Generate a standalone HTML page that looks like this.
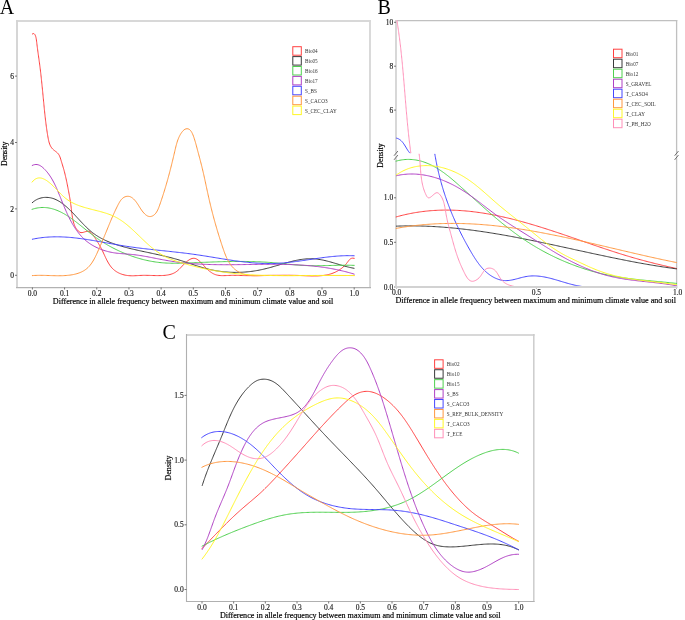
<!DOCTYPE html>
<html><head><meta charset="utf-8"><style>
html,body{margin:0;padding:0;background:#fff;width:685px;height:620px;overflow:hidden}
svg{display:block;will-change:transform}
</style></head><body>
<svg width="685" height="620" viewBox="0 0 685 620">
<defs>
<clipPath id="bup"><rect x="396" y="20" width="281" height="133.2"/></clipPath>
<clipPath id="blo"><rect x="395" y="153.6" width="282" height="134"/></clipPath>
</defs>
<style>
text{font-family:"Liberation Serif",serif;fill:#111}
.tk{font-size:7.5px;fill:#222;stroke:#222;stroke-width:0.15px}
.ti{font-size:8.1px;fill:#000;stroke:#000;stroke-width:0.18px}
.lg{font-size:5.2px;fill:#333}
.pl{font-size:20px;fill:#000}
path{fill:none;stroke-width:1.0;stroke-linejoin:round;stroke-linecap:round}
</style>
<rect width="685" height="620" fill="#fff"/>
<line x1="16.0" y1="21.0" x2="371.0" y2="21.0" stroke="#d8d8d8" stroke-width="1.9"/><line x1="370.0" y1="20.0" x2="370.0" y2="288.0" stroke="#d8d8d8" stroke-width="1.9"/><line x1="17.0" y1="20.0" x2="17.0" y2="288.0" stroke="#d4d4d4" stroke-width="1.9"/><line x1="16.0" y1="287.5" x2="371.0" y2="287.5" stroke="#b2b2b2" stroke-width="1.25"/>
<line x1="15.0" y1="275.3" x2="17.0" y2="275.3" stroke="#555" stroke-width="0.8"/>
<text x="14.0" y="277.9" class="tk" text-anchor="end">0</text>
<line x1="15.0" y1="208.9" x2="17.0" y2="208.9" stroke="#555" stroke-width="0.8"/>
<text x="14.0" y="211.5" class="tk" text-anchor="end">2</text>
<line x1="15.0" y1="142.5" x2="17.0" y2="142.5" stroke="#555" stroke-width="0.8"/>
<text x="14.0" y="145.1" class="tk" text-anchor="end">4</text>
<line x1="15.0" y1="76.1" x2="17.0" y2="76.1" stroke="#555" stroke-width="0.8"/>
<text x="14.0" y="78.7" class="tk" text-anchor="end">6</text>
<line x1="32.40" y1="287.5" x2="32.40" y2="289.5" stroke="#555" stroke-width="0.8"/>
<text x="32.40" y="296.1" class="tk" text-anchor="middle">0.0</text>
<line x1="64.58" y1="287.5" x2="64.58" y2="289.5" stroke="#555" stroke-width="0.8"/>
<text x="64.58" y="296.1" class="tk" text-anchor="middle">0.1</text>
<line x1="96.76" y1="287.5" x2="96.76" y2="289.5" stroke="#555" stroke-width="0.8"/>
<text x="96.76" y="296.1" class="tk" text-anchor="middle">0.2</text>
<line x1="128.94" y1="287.5" x2="128.94" y2="289.5" stroke="#555" stroke-width="0.8"/>
<text x="128.94" y="296.1" class="tk" text-anchor="middle">0.3</text>
<line x1="161.12" y1="287.5" x2="161.12" y2="289.5" stroke="#555" stroke-width="0.8"/>
<text x="161.12" y="296.1" class="tk" text-anchor="middle">0.4</text>
<line x1="193.30" y1="287.5" x2="193.30" y2="289.5" stroke="#555" stroke-width="0.8"/>
<text x="193.30" y="296.1" class="tk" text-anchor="middle">0.5</text>
<line x1="225.48" y1="287.5" x2="225.48" y2="289.5" stroke="#555" stroke-width="0.8"/>
<text x="225.48" y="296.1" class="tk" text-anchor="middle">0.6</text>
<line x1="257.66" y1="287.5" x2="257.66" y2="289.5" stroke="#555" stroke-width="0.8"/>
<text x="257.66" y="296.1" class="tk" text-anchor="middle">0.7</text>
<line x1="289.84" y1="287.5" x2="289.84" y2="289.5" stroke="#555" stroke-width="0.8"/>
<text x="289.84" y="296.1" class="tk" text-anchor="middle">0.8</text>
<line x1="322.02" y1="287.5" x2="322.02" y2="289.5" stroke="#555" stroke-width="0.8"/>
<text x="322.02" y="296.1" class="tk" text-anchor="middle">0.9</text>
<line x1="354.20" y1="287.5" x2="354.20" y2="289.5" stroke="#555" stroke-width="0.8"/>
<text x="354.20" y="296.1" class="tk" text-anchor="middle">1.0</text>
<text x="193.1" y="304.2" class="ti" text-anchor="middle">Difference in allele frequency between maximum and minimum climate value and soil</text>
<text transform="translate(7.2,153.8) rotate(-90)" class="ti" style="font-size:7.9px" text-anchor="middle">Density</text>
<path d="M32.40,34.00 L33.33,33.56 L34.10,33.73 L34.74,34.36 L35.25,35.28 L35.65,36.33 L35.96,37.47 L36.21,38.66 L36.40,39.90 L36.57,41.17 L36.72,42.43 L36.87,43.69 L37.02,44.94 L37.17,46.18 L37.33,47.41 L37.49,48.63 L37.65,49.85 L37.82,51.05 L37.98,52.25 L38.15,53.45 L38.31,54.64 L38.48,55.82 L38.64,57.00 L38.81,58.18 L38.97,59.36 L39.13,60.54 L39.29,61.71 L39.45,62.89 L39.61,64.07 L39.76,65.25 L39.92,66.43 L40.07,67.61 L40.21,68.80 L40.36,69.98 L40.50,71.17 L40.64,72.36 L40.78,73.56 L40.91,74.75 L41.04,75.95 L41.18,77.14 L41.31,78.34 L41.43,79.54 L41.56,80.74 L41.69,81.94 L41.81,83.14 L41.93,84.35 L42.05,85.55 L42.17,86.75 L42.29,87.96 L42.41,89.16 L42.53,90.36 L42.65,91.57 L42.76,92.77 L42.88,93.98 L43.00,95.18 L43.11,96.38 L43.23,97.58 L43.34,98.78 L43.46,99.98 L43.57,101.18 L43.69,102.38 L43.80,103.58 L43.92,104.78 L44.04,105.97 L44.15,107.17 L44.27,108.36 L44.39,109.55 L44.51,110.74 L44.63,111.93 L44.75,113.11 L44.88,114.30 L45.01,115.49 L45.13,116.67 L45.27,117.86 L45.40,119.05 L45.54,120.23 L45.68,121.42 L45.83,122.61 L45.98,123.80 L46.13,124.99 L46.29,126.18 L46.45,127.38 L46.62,128.57 L46.79,129.77 L46.97,130.97 L47.15,132.17 L47.34,133.37 L47.54,134.58 L47.74,135.79 L47.95,137.01 L48.17,138.22 L48.40,139.44 L48.66,140.64 L48.95,141.82 L49.29,142.99 L49.68,144.12 L50.12,145.21 L50.64,146.26 L51.24,147.25 L51.93,148.18 L52.71,149.05 L53.59,149.86 L54.54,150.61 L55.52,151.35 L56.48,152.09 L57.38,152.88 L58.19,153.74 L58.87,154.69 L59.44,155.73 L59.92,156.83 L60.34,157.98 L60.70,159.16 L61.05,160.33 L61.40,161.50 L61.75,162.65 L62.10,163.79 L62.44,164.92 L62.79,166.05 L63.13,167.19 L63.46,168.32 L63.79,169.47 L64.11,170.62 L64.41,171.79 L64.72,172.96 L65.01,174.14 L65.29,175.33 L65.57,176.52 L65.84,177.72 L66.11,178.92 L66.36,180.12 L66.62,181.32 L66.87,182.51 L67.11,183.71 L67.35,184.89 L67.58,186.07 L67.82,187.25 L68.04,188.41 L68.27,189.57 L68.49,190.73 L68.71,191.88 L68.92,193.03 L69.13,194.17 L69.34,195.32 L69.54,196.47 L69.74,197.62 L69.93,198.78 L70.12,199.94 L70.30,201.11 L70.47,202.28 L70.65,203.47 L70.81,204.67 L70.97,205.87 L71.12,207.10 L71.27,208.33 L71.41,209.58 L71.56,210.84 L71.70,212.11 L71.85,213.38 L72.01,214.64 L72.19,215.91 L72.38,217.16 L72.60,218.40 L72.84,219.63 L73.11,220.83 L73.42,222.02 L73.76,223.17 L74.14,224.29 L74.56,225.38 L75.03,226.43 L75.56,227.44 L76.14,228.40 L76.78,229.32 L77.48,230.17 L78.25,230.98 L79.09,231.71 L80.01,232.30 L81.01,232.61 L82.11,232.60 L83.28,232.36 L84.49,231.98 L85.72,231.58 L86.93,231.26 L88.09,231.14 L89.15,231.33 L90.12,231.80 L91.02,232.49 L91.85,233.36 L92.63,234.35 L93.37,235.40 L94.08,236.47 L94.77,237.53 L95.45,238.57 L96.11,239.60 L96.75,240.62 L97.37,241.64 L97.99,242.65 L98.59,243.66 L99.17,244.67 L99.75,245.68 L100.31,246.70 L100.86,247.73 L101.41,248.77 L101.94,249.82 L102.47,250.89 L102.99,251.98 L103.51,253.08 L104.03,254.20 L104.55,255.33 L105.07,256.46 L105.60,257.59 L106.14,258.71 L106.70,259.83 L107.27,260.93 L107.86,262.02 L108.47,263.09 L109.11,264.13 L109.78,265.14 L110.48,266.11 L111.21,267.05 L111.98,267.94 L112.79,268.79 L113.64,269.58 L114.54,270.33 L115.47,271.03 L116.43,271.67 L117.43,272.27 L118.46,272.82 L119.52,273.33 L120.60,273.78 L121.71,274.19 L122.85,274.55 L124.00,274.86 L125.17,275.13 L126.35,275.35 L127.55,275.52 L128.76,275.65 L129.98,275.74 L131.20,275.78 L132.43,275.79 L133.67,275.77 L134.90,275.73 L136.13,275.67 L137.36,275.60 L138.59,275.53 L139.81,275.46 L141.02,275.41 L142.21,275.37 L143.41,275.34 L144.59,275.34 L145.77,275.34 L146.94,275.35 L148.11,275.38 L149.28,275.40 L150.45,275.44 L151.63,275.47 L152.81,275.51 L154.00,275.54 L155.19,275.57 L156.40,275.59 L157.62,275.60 L158.85,275.60 L160.09,275.59 L161.34,275.57 L162.60,275.51 L163.85,275.44 L165.10,275.33 L166.33,275.19 L167.56,275.01 L168.76,274.79 L169.94,274.52 L171.09,274.20 L172.21,273.82 L173.30,273.39 L174.34,272.89 L175.33,272.33 L176.28,271.70 L177.20,271.00 L178.08,270.26 L178.93,269.47 L179.77,268.64 L180.60,267.79 L181.43,266.91 L182.26,266.02 L183.11,265.12 L183.98,264.23 L184.87,263.34 L185.80,262.47 L186.77,261.62 L187.78,260.81 L188.83,260.07 L189.90,259.42 L190.98,258.89 L192.05,258.51 L193.12,258.30 L194.16,258.29 L195.18,258.48 L196.18,258.84 L197.15,259.35 L198.10,259.99 L199.04,260.74 L199.96,261.58 L200.87,262.47 L201.76,263.41 L202.65,264.36 L203.53,265.31 L204.40,266.25 L205.27,267.17 L206.15,268.06 L207.03,268.94 L207.91,269.77 L208.81,270.58 L209.72,271.33 L210.65,272.04 L211.59,272.70 L212.56,273.30 L213.56,273.83 L214.58,274.30 L215.64,274.69 L216.73,275.00 L217.85,275.24 L219.00,275.42 L220.18,275.54 L221.37,275.61 L222.59,275.64 L223.82,275.64 L225.06,275.61 L226.31,275.56 L227.56,275.51 L228.81,275.45 L230.06,275.39 L231.31,275.35 L232.55,275.32 L233.78,275.32 L235.00,275.33 L236.21,275.35 L237.42,275.38 L238.62,275.42 L239.82,275.46 L241.02,275.50 L242.22,275.54 L243.42,275.57 L244.61,275.60 L245.81,275.62 L247.01,275.64 L248.20,275.65 L249.40,275.66 L250.59,275.67 L251.79,275.67 L252.98,275.67 L254.18,275.67 L255.37,275.66 L256.57,275.66 L257.76,275.65 L258.96,275.63 L260.15,275.62 L261.35,275.60 L262.54,275.58 L263.74,275.56 L264.94,275.54 L266.13,275.52 L267.33,275.50 L268.53,275.48 L269.72,275.46 L270.92,275.43 L272.12,275.41 L273.32,275.39 L274.52,275.37 L275.72,275.35 L276.92,275.33 L278.12,275.32 L279.32,275.30 L280.52,275.29 L281.73,275.28 L282.93,275.27 L284.14,275.26 L285.34,275.26 L286.55,275.26 L287.76,275.26 L288.97,275.26 L290.18,275.27 L291.39,275.29 L292.60,275.31 L293.81,275.33 L295.03,275.35 L296.24,275.39 L297.46,275.42 L298.68,275.46 L299.90,275.51 L301.12,275.56 L302.34,275.62 L303.56,275.67 L304.78,275.73 L306.00,275.78 L307.22,275.83 L308.44,275.88 L309.65,275.92 L310.87,275.95 L312.08,275.98 L313.29,275.99 L314.49,275.99 L315.70,275.98 L316.89,275.95 L318.09,275.90 L319.28,275.84 L320.46,275.76 L321.64,275.65 L322.81,275.53 L323.97,275.38 L325.13,275.20 L326.28,275.00 L327.42,274.76 L328.56,274.50 L329.68,274.21 L330.80,273.88 L331.91,273.51 L333.00,273.11 L334.09,272.68 L335.16,272.21 L336.22,271.70 L337.27,271.15 L338.29,270.56 L339.30,269.94 L340.29,269.28 L341.25,268.58 L342.20,267.83 L343.11,267.05 L344.01,266.23 L344.87,265.37 L345.70,264.47 L346.51,263.52 L347.28,262.53 L348.02,261.51 L348.77,260.50 L349.57,259.58 L350.46,258.83 L351.51,258.32 L352.74,258.13 L354.23,258.33" stroke="#ff4040"/>
<path d="M32.26,202.70 L33.26,201.84 L34.30,201.05 L35.36,200.34 L36.46,199.72 L37.57,199.17 L38.71,198.69 L39.86,198.30 L41.03,197.97 L42.21,197.72 L43.39,197.53 L44.58,197.42 L45.78,197.37 L46.96,197.38 L48.15,197.46 L49.32,197.60 L50.49,197.81 L51.64,198.07 L52.77,198.39 L53.88,198.76 L54.98,199.19 L56.06,199.66 L57.11,200.19 L58.15,200.75 L59.18,201.35 L60.19,201.98 L61.18,202.65 L62.16,203.35 L63.12,204.07 L64.07,204.81 L65.00,205.58 L65.92,206.36 L66.83,207.15 L67.73,207.96 L68.62,208.78 L69.50,209.62 L70.36,210.46 L71.22,211.32 L72.08,212.18 L72.92,213.05 L73.76,213.93 L74.60,214.81 L75.43,215.70 L76.26,216.59 L77.09,217.48 L77.92,218.38 L78.74,219.27 L79.57,220.16 L80.39,221.05 L81.22,221.94 L82.05,222.82 L82.89,223.70 L83.72,224.57 L84.57,225.43 L85.42,226.28 L86.28,227.13 L87.14,227.96 L88.01,228.78 L88.90,229.58 L89.79,230.37 L90.69,231.15 L91.61,231.91 L92.54,232.65 L93.48,233.37 L94.44,234.07 L95.41,234.76 L96.39,235.42 L97.39,236.06 L98.40,236.69 L99.43,237.29 L100.46,237.88 L101.51,238.45 L102.57,239.01 L103.64,239.54 L104.72,240.06 L105.81,240.57 L106.90,241.06 L108.01,241.54 L109.13,242.00 L110.25,242.45 L111.38,242.89 L112.52,243.31 L113.66,243.72 L114.81,244.12 L115.96,244.51 L117.12,244.89 L118.29,245.26 L119.45,245.61 L120.63,245.96 L121.80,246.30 L122.98,246.64 L124.16,246.96 L125.34,247.28 L126.52,247.59 L127.70,247.89 L128.88,248.19 L130.06,248.48 L131.24,248.77 L132.42,249.05 L133.60,249.33 L134.78,249.60 L135.96,249.87 L137.13,250.14 L138.31,250.40 L139.49,250.66 L140.66,250.92 L141.84,251.18 L143.01,251.43 L144.18,251.68 L145.35,251.93 L146.52,252.18 L147.70,252.43 L148.87,252.68 L150.04,252.93 L151.20,253.18 L152.37,253.43 L153.54,253.68 L154.71,253.93 L155.87,254.18 L157.04,254.44 L158.20,254.69 L159.37,254.95 L160.53,255.21 L161.69,255.48 L162.86,255.74 L164.02,256.01 L165.18,256.29 L166.34,256.57 L167.50,256.85 L168.66,257.14 L169.82,257.43 L170.97,257.73 L172.13,258.03 L173.29,258.34 L174.44,258.66 L175.60,258.98 L176.76,259.31 L177.91,259.65 L179.06,259.99 L180.22,260.35 L181.37,260.70 L182.52,261.07 L183.67,261.44 L184.83,261.82 L185.98,262.20 L187.13,262.59 L188.28,262.97 L189.43,263.36 L190.59,263.75 L191.74,264.14 L192.89,264.52 L194.05,264.91 L195.20,265.29 L196.36,265.67 L197.51,266.04 L198.67,266.41 L199.83,266.77 L200.99,267.13 L202.15,267.47 L203.31,267.81 L204.48,268.14 L205.64,268.45 L206.81,268.76 L207.98,269.05 L209.15,269.33 L210.32,269.60 L211.50,269.85 L212.67,270.09 L213.85,270.32 L215.03,270.54 L216.21,270.75 L217.39,270.94 L218.57,271.12 L219.76,271.29 L220.94,271.45 L222.13,271.59 L223.31,271.73 L224.50,271.85 L225.69,271.95 L226.88,272.05 L228.07,272.14 L229.26,272.21 L230.45,272.27 L231.64,272.32 L232.83,272.35 L234.02,272.38 L235.22,272.39 L236.41,272.39 L237.60,272.38 L238.80,272.36 L239.99,272.32 L241.18,272.27 L242.37,272.22 L243.57,272.14 L244.76,272.06 L245.95,271.97 L247.14,271.86 L248.34,271.74 L249.53,271.61 L250.72,271.47 L251.91,271.32 L253.10,271.16 L254.29,270.98 L255.47,270.79 L256.66,270.59 L257.85,270.38 L259.03,270.16 L260.22,269.92 L261.40,269.68 L262.58,269.42 L263.76,269.15 L264.94,268.87 L266.12,268.58 L267.29,268.28 L268.47,267.97 L269.64,267.65 L270.82,267.33 L271.99,267.00 L273.16,266.66 L274.33,266.32 L275.51,265.98 L276.68,265.64 L277.85,265.29 L279.01,264.94 L280.18,264.60 L281.35,264.25 L282.52,263.91 L283.69,263.57 L284.86,263.24 L286.02,262.91 L287.19,262.58 L288.36,262.26 L289.53,261.95 L290.70,261.65 L291.86,261.36 L293.03,261.08 L294.20,260.81 L295.37,260.55 L296.54,260.31 L297.71,260.08 L298.89,259.86 L300.06,259.67 L301.23,259.48 L302.41,259.32 L303.58,259.17 L304.76,259.05 L305.94,258.94 L307.12,258.86 L308.30,258.80 L309.48,258.76 L310.66,258.74 L311.85,258.76 L313.03,258.79 L314.22,258.86 L315.41,258.95 L316.60,259.07 L317.79,259.21 L318.99,259.38 L320.18,259.58 L321.38,259.79 L322.57,260.02 L323.77,260.28 L324.96,260.55 L326.16,260.83 L327.35,261.13 L328.55,261.44 L329.74,261.76 L330.93,262.09 L332.12,262.43 L333.31,262.78 L334.49,263.13 L335.67,263.48 L336.85,263.83 L338.03,264.19 L339.21,264.54 L340.38,264.89 L341.55,265.23 L342.71,265.57 L343.87,265.90 L345.02,266.22 L346.18,266.53 L347.32,266.83 L348.46,267.12 L349.60,267.39 L350.73,267.64 L351.85,267.88 L352.97,268.09 L354.08,268.29" stroke="#3a3a3a"/>
<path d="M32.06,209.34 L33.34,208.93 L34.60,208.57 L35.86,208.26 L37.10,208.01 L38.34,207.81 L39.57,207.66 L40.79,207.55 L42.00,207.49 L43.20,207.48 L44.40,207.51 L45.58,207.58 L46.76,207.69 L47.93,207.85 L49.09,208.04 L50.24,208.27 L51.38,208.53 L52.52,208.83 L53.64,209.17 L54.76,209.53 L55.87,209.93 L56.97,210.35 L58.07,210.81 L59.15,211.29 L60.23,211.79 L61.30,212.32 L62.37,212.87 L63.42,213.45 L64.47,214.04 L65.51,214.65 L66.54,215.28 L67.57,215.93 L68.58,216.59 L69.60,217.27 L70.60,217.95 L71.60,218.65 L72.58,219.36 L73.57,220.08 L74.54,220.80 L75.52,221.53 L76.48,222.27 L77.44,223.02 L78.40,223.77 L79.36,224.53 L80.31,225.28 L81.26,226.05 L82.21,226.81 L83.15,227.57 L84.10,228.34 L85.04,229.10 L85.99,229.86 L86.93,230.63 L87.88,231.38 L88.83,232.14 L89.78,232.89 L90.73,233.63 L91.68,234.37 L92.64,235.11 L93.61,235.83 L94.57,236.55 L95.55,237.26 L96.52,237.95 L97.51,238.64 L98.50,239.32 L99.49,239.99 L100.49,240.65 L101.49,241.31 L102.50,241.95 L103.52,242.59 L104.54,243.21 L105.57,243.83 L106.60,244.44 L107.63,245.04 L108.68,245.63 L109.72,246.22 L110.78,246.79 L111.84,247.36 L112.90,247.92 L113.97,248.47 L115.05,249.01 L116.13,249.55 L117.21,250.07 L118.30,250.59 L119.40,251.10 L120.50,251.60 L121.61,252.09 L122.72,252.57 L123.83,253.05 L124.95,253.51 L126.07,253.97 L127.20,254.41 L128.33,254.85 L129.47,255.27 L130.61,255.69 L131.75,256.10 L132.90,256.49 L134.05,256.88 L135.20,257.26 L136.35,257.62 L137.51,257.98 L138.68,258.32 L139.84,258.65 L141.01,258.98 L142.18,259.29 L143.35,259.59 L144.53,259.88 L145.71,260.15 L146.89,260.42 L148.07,260.67 L149.26,260.92 L150.44,261.15 L151.63,261.36 L152.82,261.57 L154.01,261.76 L155.20,261.95 L156.40,262.12 L157.59,262.27 L158.79,262.41 L159.98,262.55 L161.18,262.66 L162.38,262.77 L163.58,262.86 L164.78,262.95 L165.98,263.02 L167.18,263.08 L168.38,263.14 L169.59,263.18 L170.79,263.21 L171.99,263.24 L173.20,263.26 L174.40,263.27 L175.61,263.27 L176.82,263.26 L178.02,263.25 L179.23,263.24 L180.44,263.22 L181.64,263.19 L182.85,263.16 L184.06,263.12 L185.27,263.09 L186.48,263.04 L187.68,263.00 L188.89,262.95 L190.10,262.90 L191.31,262.85 L192.52,262.80 L193.73,262.75 L194.94,262.70 L196.14,262.65 L197.35,262.60 L198.56,262.55 L199.77,262.50 L200.98,262.44 L202.19,262.39 L203.40,262.34 L204.60,262.30 L205.81,262.25 L207.02,262.20 L208.23,262.15 L209.44,262.11 L210.64,262.06 L211.85,262.02 L213.06,261.97 L214.27,261.93 L215.47,261.89 L216.68,261.85 L217.89,261.81 L219.10,261.78 L220.30,261.74 L221.51,261.71 L222.72,261.68 L223.93,261.65 L225.13,261.62 L226.34,261.59 L227.55,261.57 L228.75,261.54 L229.96,261.52 L231.17,261.50 L232.37,261.49 L233.58,261.47 L234.79,261.46 L235.99,261.45 L237.20,261.45 L238.40,261.44 L239.61,261.44 L240.82,261.44 L242.02,261.44 L243.23,261.45 L244.43,261.46 L245.64,261.47 L246.85,261.49 L248.05,261.50 L249.26,261.53 L250.46,261.55 L251.67,261.58 L252.87,261.61 L254.08,261.64 L255.28,261.68 L256.49,261.72 L257.69,261.77 L258.90,261.82 L260.10,261.87 L261.31,261.93 L262.51,261.99 L263.72,262.06 L264.92,262.12 L266.12,262.20 L267.33,262.27 L268.53,262.36 L269.74,262.44 L270.94,262.53 L272.14,262.63 L273.35,262.73 L274.55,262.83 L275.75,262.94 L276.96,263.05 L278.16,263.17 L279.36,263.29 L280.57,263.41 L281.77,263.53 L282.97,263.66 L284.18,263.79 L285.38,263.91 L286.59,264.04 L287.79,264.16 L288.99,264.29 L290.20,264.41 L291.40,264.53 L292.60,264.64 L293.81,264.76 L295.01,264.86 L296.22,264.97 L297.42,265.06 L298.63,265.15 L299.83,265.24 L301.04,265.32 L302.24,265.39 L303.45,265.45 L304.66,265.50 L305.86,265.55 L307.07,265.59 L308.28,265.63 L309.48,265.66 L310.69,265.68 L311.90,265.70 L313.11,265.71 L314.32,265.72 L315.52,265.72 L316.73,265.72 L317.94,265.71 L319.15,265.70 L320.36,265.69 L321.57,265.67 L322.78,265.65 L323.99,265.63 L325.20,265.61 L326.40,265.58 L327.61,265.55 L328.82,265.52 L330.03,265.49 L331.24,265.46 L332.45,265.43 L333.66,265.40 L334.87,265.37 L336.08,265.34 L337.29,265.32 L338.50,265.29 L339.71,265.27 L340.91,265.25 L342.12,265.24 L343.33,265.23 L344.54,265.22 L345.75,265.22 L346.95,265.22 L348.16,265.23 L349.37,265.24 L350.58,265.27 L351.78,265.29 L352.99,265.33 L354.20,265.37" stroke="#4fd04f"/>
<path d="M32.25,165.47 L33.53,164.92 L34.77,164.60 L35.95,164.48 L37.09,164.55 L38.19,164.79 L39.25,165.18 L40.26,165.69 L41.24,166.31 L42.18,167.02 L43.08,167.80 L43.96,168.62 L44.80,169.48 L45.62,170.35 L46.41,171.24 L47.17,172.14 L47.91,173.07 L48.62,174.01 L49.31,174.96 L49.98,175.93 L50.63,176.92 L51.25,177.92 L51.86,178.93 L52.46,179.95 L53.03,180.99 L53.59,182.04 L54.14,183.10 L54.67,184.17 L55.19,185.24 L55.70,186.33 L56.20,187.42 L56.70,188.53 L57.18,189.64 L57.66,190.75 L58.13,191.87 L58.60,193.00 L59.06,194.13 L59.52,195.26 L59.99,196.40 L60.45,197.54 L60.91,198.68 L61.37,199.83 L61.83,200.97 L62.30,202.11 L62.76,203.26 L63.23,204.40 L63.70,205.55 L64.18,206.69 L64.66,207.83 L65.14,208.96 L65.63,210.10 L66.13,211.23 L66.63,212.35 L67.13,213.47 L67.65,214.59 L68.17,215.69 L68.70,216.80 L69.24,217.89 L69.79,218.98 L70.34,220.06 L70.91,221.13 L71.49,222.19 L72.07,223.24 L72.67,224.29 L73.28,225.32 L73.91,226.34 L74.55,227.35 L75.20,228.34 L75.86,229.32 L76.54,230.29 L77.23,231.25 L77.94,232.19 L78.66,233.12 L79.40,234.03 L80.16,234.92 L80.94,235.80 L81.73,236.66 L82.54,237.50 L83.37,238.33 L84.22,239.14 L85.09,239.92 L85.98,240.69 L86.89,241.44 L87.82,242.16 L88.77,242.87 L89.74,243.55 L90.74,244.21 L91.76,244.85 L92.79,245.47 L93.85,246.06 L94.92,246.64 L96.00,247.19 L97.11,247.71 L98.22,248.22 L99.35,248.70 L100.49,249.16 L101.64,249.60 L102.80,250.01 L103.97,250.41 L105.15,250.78 L106.33,251.12 L107.52,251.45 L108.71,251.75 L109.91,252.03 L111.11,252.28 L112.31,252.51 L113.50,252.72 L114.70,252.91 L115.90,253.07 L117.10,253.22 L118.29,253.35 L119.49,253.47 L120.68,253.58 L121.87,253.67 L123.07,253.76 L124.26,253.85 L125.45,253.94 L126.64,254.02 L127.83,254.11 L129.02,254.20 L130.21,254.30 L131.40,254.41 L132.59,254.53 L133.78,254.66 L134.96,254.80 L136.15,254.96 L137.34,255.12 L138.53,255.29 L139.71,255.46 L140.90,255.65 L142.09,255.84 L143.27,256.04 L144.46,256.25 L145.65,256.46 L146.83,256.67 L148.02,256.89 L149.21,257.11 L150.39,257.34 L151.58,257.57 L152.77,257.80 L153.95,258.03 L155.14,258.26 L156.33,258.50 L157.52,258.73 L158.70,258.96 L159.89,259.19 L161.08,259.42 L162.27,259.65 L163.46,259.87 L164.65,260.09 L165.84,260.31 L167.03,260.52 L168.22,260.73 L169.41,260.93 L170.60,261.12 L171.79,261.31 L172.98,261.49 L174.18,261.67 L175.37,261.84 L176.56,262.00 L177.76,262.16 L178.95,262.31 L180.15,262.45 L181.34,262.59 L182.54,262.73 L183.74,262.86 L184.93,262.98 L186.13,263.10 L187.33,263.21 L188.52,263.32 L189.72,263.43 L190.92,263.52 L192.12,263.62 L193.32,263.71 L194.52,263.79 L195.72,263.87 L196.92,263.95 L198.12,264.02 L199.32,264.09 L200.52,264.15 L201.73,264.21 L202.93,264.27 L204.13,264.32 L205.33,264.37 L206.54,264.41 L207.74,264.45 L208.94,264.49 L210.15,264.52 L211.35,264.56 L212.55,264.58 L213.76,264.61 L214.96,264.63 L216.17,264.65 L217.37,264.67 L218.58,264.68 L219.78,264.69 L220.99,264.70 L222.19,264.71 L223.40,264.72 L224.60,264.72 L225.81,264.72 L227.02,264.72 L228.22,264.72 L229.43,264.71 L230.64,264.71 L231.84,264.70 L233.05,264.69 L234.26,264.68 L235.46,264.67 L236.67,264.66 L237.88,264.64 L239.09,264.63 L240.29,264.62 L241.50,264.60 L242.71,264.58 L243.92,264.57 L245.12,264.55 L246.33,264.53 L247.54,264.51 L248.75,264.50 L249.95,264.48 L251.16,264.46 L252.37,264.44 L253.58,264.43 L254.78,264.41 L255.99,264.39 L257.20,264.38 L258.41,264.36 L259.61,264.35 L260.82,264.33 L262.03,264.32 L263.23,264.31 L264.44,264.30 L265.65,264.29 L266.86,264.28 L268.06,264.28 L269.27,264.27 L270.47,264.27 L271.68,264.27 L272.89,264.27 L274.09,264.27 L275.30,264.28 L276.50,264.29 L277.71,264.30 L278.92,264.31 L280.12,264.32 L281.33,264.34 L282.53,264.36 L283.73,264.38 L284.94,264.40 L286.14,264.43 L287.35,264.46 L288.55,264.50 L289.75,264.53 L290.96,264.58 L292.16,264.62 L293.36,264.67 L294.56,264.72 L295.77,264.77 L296.97,264.83 L298.17,264.90 L299.37,264.96 L300.57,265.03 L301.77,265.11 L302.97,265.19 L304.17,265.27 L305.37,265.36 L306.57,265.46 L307.77,265.55 L308.97,265.66 L310.17,265.76 L311.36,265.88 L312.56,266.00 L313.76,266.12 L314.95,266.25 L316.15,266.38 L317.35,266.52 L318.54,266.67 L319.74,266.82 L320.93,266.97 L322.12,267.14 L323.32,267.30 L324.51,267.48 L325.70,267.66 L326.89,267.85 L328.09,268.04 L329.28,268.24 L330.47,268.45 L331.66,268.66 L332.85,268.88 L334.04,269.11 L335.22,269.34 L336.41,269.58 L337.60,269.83 L338.79,270.09 L339.97,270.35 L341.16,270.62 L342.34,270.90 L343.53,271.19 L344.71,271.48 L345.89,271.78 L347.08,272.09 L348.26,272.41 L349.44,272.73 L350.62,273.07 L351.80,273.41 L352.98,273.76 L354.16,274.12" stroke="#b040c4"/>
<path d="M32.34,239.24 L33.55,238.99 L34.75,238.75 L35.96,238.53 L37.16,238.33 L38.37,238.14 L39.57,237.96 L40.77,237.80 L41.97,237.65 L43.17,237.51 L44.38,237.39 L45.58,237.28 L46.78,237.18 L47.98,237.09 L49.18,237.02 L50.38,236.96 L51.57,236.91 L52.77,236.87 L53.97,236.84 L55.17,236.82 L56.37,236.82 L57.56,236.82 L58.76,236.84 L59.96,236.86 L61.15,236.89 L62.35,236.94 L63.55,236.99 L64.74,237.05 L65.94,237.12 L67.13,237.20 L68.33,237.28 L69.52,237.38 L70.71,237.48 L71.91,237.59 L73.10,237.71 L74.30,237.83 L75.49,237.96 L76.68,238.09 L77.88,238.24 L79.07,238.39 L80.26,238.54 L81.46,238.70 L82.65,238.86 L83.84,239.03 L85.03,239.21 L86.23,239.39 L87.42,239.57 L88.61,239.75 L89.80,239.95 L90.99,240.14 L92.19,240.34 L93.38,240.54 L94.57,240.74 L95.76,240.94 L96.95,241.15 L98.15,241.36 L99.34,241.57 L100.53,241.78 L101.72,242.00 L102.91,242.21 L104.10,242.43 L105.30,242.64 L106.49,242.86 L107.68,243.08 L108.87,243.29 L110.06,243.51 L111.26,243.72 L112.45,243.94 L113.64,244.15 L114.83,244.36 L116.03,244.57 L117.22,244.78 L118.41,244.98 L119.61,245.18 L120.80,245.38 L121.99,245.58 L123.19,245.77 L124.38,245.96 L125.57,246.15 L126.77,246.33 L127.96,246.51 L129.16,246.69 L130.35,246.86 L131.55,247.03 L132.74,247.20 L133.94,247.36 L135.13,247.52 L136.33,247.68 L137.52,247.83 L138.72,247.98 L139.91,248.13 L141.11,248.28 L142.31,248.43 L143.50,248.57 L144.70,248.71 L145.90,248.85 L147.09,248.99 L148.29,249.13 L149.49,249.26 L150.68,249.39 L151.88,249.53 L153.08,249.66 L154.27,249.79 L155.47,249.92 L156.67,250.05 L157.87,250.18 L159.06,250.30 L160.26,250.43 L161.46,250.56 L162.66,250.68 L163.85,250.81 L165.05,250.94 L166.25,251.07 L167.45,251.19 L168.64,251.32 L169.84,251.45 L171.04,251.58 L172.24,251.71 L173.43,251.84 L174.63,251.97 L175.83,252.10 L177.03,252.24 L178.23,252.37 L179.42,252.51 L180.62,252.65 L181.82,252.79 L183.02,252.93 L184.21,253.08 L185.41,253.23 L186.61,253.37 L187.80,253.52 L189.00,253.68 L190.20,253.83 L191.40,253.99 L192.59,254.16 L193.79,254.32 L194.99,254.49 L196.18,254.66 L197.38,254.83 L198.58,255.01 L199.77,255.19 L200.97,255.37 L202.16,255.55 L203.36,255.74 L204.56,255.93 L205.75,256.12 L206.95,256.31 L208.14,256.50 L209.34,256.69 L210.54,256.89 L211.73,257.08 L212.93,257.28 L214.12,257.48 L215.32,257.67 L216.51,257.87 L217.71,258.07 L218.90,258.26 L220.10,258.46 L221.29,258.65 L222.49,258.84 L223.68,259.04 L224.88,259.23 L226.08,259.42 L227.27,259.60 L228.47,259.79 L229.66,259.97 L230.86,260.15 L232.05,260.33 L233.25,260.51 L234.44,260.68 L235.64,260.85 L236.83,261.01 L238.03,261.18 L239.22,261.34 L240.42,261.49 L241.61,261.64 L242.81,261.79 L244.00,261.93 L245.20,262.07 L246.39,262.20 L247.59,262.33 L248.78,262.45 L249.98,262.57 L251.17,262.68 L252.37,262.79 L253.56,262.89 L254.76,262.98 L255.96,263.07 L257.15,263.15 L258.35,263.22 L259.54,263.29 L260.74,263.35 L261.93,263.40 L263.13,263.45 L264.33,263.49 L265.52,263.52 L266.72,263.54 L267.92,263.55 L269.11,263.55 L270.31,263.55 L271.50,263.54 L272.70,263.52 L273.90,263.48 L275.10,263.44 L276.29,263.39 L277.49,263.33 L278.69,263.27 L279.88,263.19 L281.08,263.10 L282.28,263.01 L283.48,262.91 L284.67,262.81 L285.87,262.69 L287.07,262.57 L288.27,262.44 L289.47,262.31 L290.66,262.18 L291.86,262.03 L293.06,261.88 L294.26,261.73 L295.46,261.58 L296.65,261.42 L297.85,261.25 L299.05,261.09 L300.25,260.92 L301.45,260.75 L302.65,260.57 L303.85,260.40 L305.04,260.22 L306.24,260.04 L307.44,259.86 L308.64,259.68 L309.84,259.50 L311.04,259.32 L312.24,259.14 L313.43,258.97 L314.63,258.79 L315.83,258.61 L317.03,258.44 L318.23,258.27 L319.43,258.10 L320.63,257.93 L321.82,257.77 L323.02,257.61 L324.22,257.45 L325.42,257.30 L326.62,257.16 L327.82,257.01 L329.02,256.88 L330.21,256.75 L331.41,256.62 L332.61,256.50 L333.81,256.39 L335.01,256.28 L336.21,256.18 L337.40,256.09 L338.60,256.01 L339.80,255.93 L341.00,255.86 L342.19,255.80 L343.39,255.75 L344.59,255.71 L345.79,255.68 L346.98,255.66 L348.18,255.66 L349.38,255.66 L350.58,255.67 L351.77,255.69 L352.97,255.73 L354.17,255.78" stroke="#4646ff"/>
<path d="M32.35,275.60 L33.60,275.52 L34.84,275.45 L36.07,275.41 L37.29,275.37 L38.50,275.35 L39.70,275.34 L40.90,275.34 L42.09,275.35 L43.28,275.37 L44.47,275.40 L45.65,275.43 L46.83,275.46 L48.01,275.50 L49.20,275.54 L50.38,275.58 L51.56,275.62 L52.75,275.65 L53.94,275.68 L55.14,275.71 L56.34,275.73 L57.55,275.74 L58.77,275.75 L60.00,275.74 L61.23,275.72 L62.46,275.69 L63.70,275.64 L64.93,275.57 L66.17,275.49 L67.40,275.39 L68.63,275.26 L69.85,275.12 L71.06,274.94 L72.26,274.75 L73.45,274.52 L74.62,274.27 L75.79,273.98 L76.93,273.66 L78.06,273.31 L79.16,272.92 L80.25,272.50 L81.31,272.04 L82.35,271.53 L83.35,270.99 L84.33,270.40 L85.29,269.77 L86.20,269.09 L87.09,268.37 L87.94,267.59 L88.75,266.77 L89.54,265.90 L90.29,265.00 L91.01,264.05 L91.71,263.08 L92.38,262.07 L93.03,261.03 L93.65,259.97 L94.26,258.88 L94.84,257.78 L95.41,256.66 L95.96,255.53 L96.50,254.40 L97.02,253.25 L97.54,252.10 L98.05,250.96 L98.55,249.81 L99.04,248.68 L99.53,247.55 L100.01,246.43 L100.50,245.31 L100.97,244.20 L101.45,243.10 L101.92,242.00 L102.38,240.91 L102.85,239.82 L103.31,238.73 L103.76,237.64 L104.22,236.56 L104.67,235.48 L105.12,234.40 L105.57,233.31 L106.02,232.23 L106.47,231.15 L106.92,230.06 L107.36,228.97 L107.81,227.89 L108.26,226.79 L108.70,225.70 L109.15,224.61 L109.61,223.51 L110.06,222.41 L110.52,221.31 L110.98,220.21 L111.45,219.10 L111.92,218.00 L112.40,216.89 L112.88,215.78 L113.38,214.67 L113.87,213.55 L114.38,212.44 L114.90,211.32 L115.42,210.20 L115.95,209.08 L116.50,207.95 L117.05,206.83 L117.61,205.70 L118.19,204.57 L118.79,203.45 L119.41,202.36 L120.06,201.30 L120.75,200.31 L121.50,199.38 L122.30,198.55 L123.16,197.83 L124.10,197.23 L125.11,196.77 L126.17,196.46 L127.27,196.30 L128.39,196.32 L129.49,196.51 L130.58,196.89 L131.62,197.45 L132.62,198.15 L133.56,198.97 L134.44,199.86 L135.26,200.78 L136.02,201.73 L136.74,202.71 L137.43,203.70 L138.09,204.71 L138.74,205.74 L139.38,206.77 L140.04,207.81 L140.71,208.86 L141.42,209.91 L142.17,210.95 L142.97,211.98 L143.81,212.97 L144.69,213.89 L145.60,214.72 L146.56,215.42 L147.54,215.99 L148.54,216.37 L149.58,216.56 L150.62,216.53 L151.67,216.28 L152.68,215.86 L153.63,215.29 L154.50,214.61 L155.28,213.82 L155.99,212.94 L156.64,211.98 L157.24,210.95 L157.78,209.87 L158.29,208.73 L158.76,207.57 L159.20,206.38 L159.63,205.18 L160.05,203.98 L160.46,202.79 L160.87,201.60 L161.27,200.41 L161.67,199.23 L162.06,198.06 L162.44,196.89 L162.82,195.72 L163.19,194.56 L163.56,193.40 L163.93,192.24 L164.29,191.09 L164.64,189.93 L164.99,188.79 L165.34,187.64 L165.68,186.49 L166.02,185.35 L166.35,184.21 L166.68,183.07 L167.01,181.93 L167.33,180.79 L167.65,179.65 L167.97,178.52 L168.28,177.38 L168.59,176.24 L168.90,175.10 L169.20,173.96 L169.50,172.82 L169.80,171.68 L170.10,170.54 L170.39,169.39 L170.69,168.24 L170.98,167.09 L171.27,165.94 L171.56,164.79 L171.84,163.63 L172.13,162.47 L172.41,161.30 L172.69,160.14 L172.97,158.96 L173.25,157.79 L173.53,156.61 L173.81,155.42 L174.09,154.23 L174.37,153.03 L174.65,151.83 L174.93,150.62 L175.21,149.41 L175.49,148.20 L175.79,146.98 L176.09,145.77 L176.41,144.57 L176.75,143.37 L177.10,142.19 L177.48,141.01 L177.89,139.86 L178.33,138.72 L178.79,137.60 L179.30,136.50 L179.84,135.43 L180.43,134.39 L181.06,133.37 L181.74,132.39 L182.47,131.45 L183.25,130.57 L184.10,129.81 L185.02,129.23 L185.99,128.87 L186.98,128.73 L187.95,128.82 L188.86,129.15 L189.71,129.71 L190.48,130.47 L191.19,131.41 L191.84,132.49 L192.43,133.67 L192.97,134.93 L193.47,136.23 L193.93,137.54 L194.35,138.83 L194.75,140.08 L195.11,141.30 L195.46,142.48 L195.79,143.64 L196.11,144.78 L196.41,145.90 L196.71,147.02 L197.00,148.13 L197.29,149.24 L197.59,150.36 L197.89,151.48 L198.19,152.61 L198.49,153.74 L198.80,154.88 L199.10,156.02 L199.41,157.17 L199.72,158.32 L200.02,159.48 L200.33,160.64 L200.63,161.80 L200.93,162.97 L201.23,164.14 L201.52,165.31 L201.82,166.48 L202.10,167.65 L202.39,168.83 L202.67,170.01 L202.94,171.19 L203.22,172.37 L203.49,173.55 L203.75,174.73 L204.02,175.92 L204.28,177.10 L204.54,178.29 L204.80,179.47 L205.06,180.66 L205.31,181.84 L205.57,183.03 L205.82,184.21 L206.07,185.40 L206.33,186.58 L206.58,187.76 L206.83,188.95 L207.09,190.13 L207.34,191.31 L207.60,192.49 L207.85,193.66 L208.11,194.84 L208.37,196.01 L208.63,197.18 L208.90,198.35 L209.17,199.52 L209.43,200.69 L209.71,201.85 L209.98,203.01 L210.26,204.17 L210.54,205.33 L210.82,206.49 L211.10,207.64 L211.39,208.80 L211.68,209.95 L211.97,211.11 L212.26,212.26 L212.56,213.41 L212.86,214.56 L213.16,215.71 L213.47,216.86 L213.78,218.01 L214.09,219.16 L214.40,220.31 L214.72,221.45 L215.04,222.60 L215.37,223.75 L215.69,224.90 L216.02,226.05 L216.36,227.20 L216.69,228.35 L217.03,229.50 L217.37,230.65 L217.72,231.81 L218.07,232.96 L218.42,234.11 L218.78,235.27 L219.14,236.43 L219.50,237.59 L219.87,238.75 L220.24,239.91 L220.61,241.07 L220.99,242.24 L221.37,243.41 L221.75,244.58 L222.14,245.75 L222.53,246.92 L222.93,248.10 L223.33,249.28 L223.74,250.45 L224.15,251.62 L224.58,252.78 L225.03,253.94 L225.48,255.08 L225.96,256.21 L226.45,257.33 L226.96,258.43 L227.49,259.51 L228.04,260.58 L228.62,261.62 L229.23,262.63 L229.86,263.62 L230.52,264.58 L231.22,265.51 L231.95,266.41 L232.71,267.27 L233.51,268.10 L234.34,268.88 L235.22,269.63 L236.14,270.34 L237.10,271.00 L238.10,271.61 L239.14,272.19 L240.20,272.71 L241.30,273.20 L242.42,273.64 L243.56,274.04 L244.72,274.39 L245.90,274.70 L247.09,274.97 L248.29,275.19 L249.49,275.37 L250.69,275.51 L251.90,275.61 L253.10,275.68 L254.31,275.72 L255.52,275.73 L256.73,275.72 L257.94,275.69 L259.16,275.65 L260.37,275.60 L261.58,275.55 L262.79,275.49 L264.00,275.44 L265.20,275.40 L266.41,275.36 L267.61,275.34 L268.82,275.34 L270.02,275.34 L271.22,275.36 L272.42,275.38 L273.62,275.40 L274.82,275.43 L276.02,275.45 L277.22,275.48 L278.42,275.50 L279.62,275.52 L280.82,275.53 L282.02,275.54 L283.22,275.55 L284.42,275.56 L285.62,275.56 L286.83,275.56 L288.03,275.56 L289.23,275.56 L290.44,275.56 L291.64,275.55 L292.84,275.55 L294.05,275.54 L295.25,275.53 L296.46,275.53 L297.66,275.52 L298.86,275.51 L300.07,275.51 L301.27,275.50 L302.48,275.49 L303.68,275.49 L304.88,275.48 L306.09,275.48 L307.29,275.48 L308.49,275.47 L309.70,275.47 L310.90,275.47 L312.10,275.47 L313.30,275.47 L314.51,275.47 L315.71,275.47 L316.91,275.47 L318.12,275.48 L319.32,275.48 L320.52,275.48 L321.72,275.48 L322.93,275.49 L324.13,275.49 L325.33,275.49 L326.53,275.50 L327.74,275.50 L328.94,275.50 L330.14,275.50 L331.34,275.51 L332.55,275.51 L333.75,275.51 L334.95,275.51 L336.15,275.52 L337.36,275.52 L338.56,275.52 L339.76,275.52 L340.96,275.52 L342.17,275.52 L343.37,275.52 L344.57,275.52 L345.78,275.52 L346.98,275.51 L348.18,275.51 L349.39,275.50 L350.59,275.50 L351.80,275.49 L353.00,275.49 L354.20,275.48" stroke="#ff9840"/>
<path d="M32.10,182.10 L33.12,180.91 L34.16,179.94 L35.20,179.18 L36.25,178.60 L37.30,178.21 L38.35,177.98 L39.40,177.91 L40.45,177.97 L41.49,178.16 L42.53,178.46 L43.55,178.87 L44.57,179.35 L45.57,179.91 L46.55,180.53 L47.51,181.20 L48.46,181.90 L49.38,182.64 L50.30,183.40 L51.20,184.20 L52.08,185.02 L52.96,185.85 L53.83,186.71 L54.69,187.58 L55.55,188.46 L56.40,189.35 L57.25,190.24 L58.11,191.13 L58.96,192.02 L59.82,192.91 L60.68,193.79 L61.55,194.65 L62.43,195.50 L63.33,196.33 L64.23,197.14 L65.15,197.93 L66.08,198.68 L67.03,199.40 L68.00,200.10 L68.99,200.75 L69.99,201.38 L71.01,201.98 L72.05,202.55 L73.10,203.09 L74.17,203.61 L75.25,204.11 L76.34,204.58 L77.44,205.03 L78.56,205.46 L79.68,205.87 L80.82,206.26 L81.96,206.64 L83.11,207.01 L84.27,207.36 L85.43,207.70 L86.60,208.03 L87.78,208.35 L88.96,208.67 L90.14,208.98 L91.32,209.28 L92.51,209.58 L93.70,209.88 L94.88,210.18 L96.07,210.48 L97.25,210.78 L98.44,211.08 L99.62,211.39 L100.79,211.71 L101.97,212.03 L103.13,212.36 L104.29,212.71 L105.45,213.06 L106.59,213.43 L107.73,213.82 L108.86,214.22 L109.98,214.63 L111.08,215.07 L112.18,215.53 L113.26,216.00 L114.33,216.51 L115.39,217.03 L116.44,217.58 L117.47,218.15 L118.48,218.75 L119.49,219.36 L120.48,220.00 L121.47,220.66 L122.44,221.33 L123.40,222.02 L124.36,222.73 L125.30,223.46 L126.24,224.20 L127.17,224.95 L128.09,225.72 L129.00,226.50 L129.91,227.29 L130.82,228.09 L131.72,228.90 L132.61,229.72 L133.50,230.54 L134.39,231.37 L135.27,232.21 L136.15,233.05 L137.03,233.90 L137.91,234.75 L138.79,235.60 L139.67,236.45 L140.55,237.30 L141.43,238.15 L142.31,239.00 L143.20,239.85 L144.08,240.69 L144.97,241.53 L145.87,242.36 L146.76,243.19 L147.67,244.01 L148.57,244.82 L149.49,245.62 L150.41,246.41 L151.34,247.19 L152.27,247.96 L153.21,248.72 L154.16,249.46 L155.12,250.19 L156.08,250.91 L157.05,251.61 L158.04,252.29 L159.03,252.97 L160.02,253.62 L161.03,254.26 L162.05,254.87 L163.08,255.47 L164.12,256.05 L165.17,256.62 L166.23,257.16 L167.30,257.68 L168.38,258.17 L169.47,258.65 L170.58,259.10 L171.69,259.54 L172.81,259.96 L173.94,260.37 L175.07,260.76 L176.21,261.14 L177.36,261.51 L178.51,261.87 L179.66,262.23 L180.81,262.58 L181.96,262.92 L183.12,263.26 L184.28,263.60 L185.44,263.93 L186.60,264.26 L187.76,264.58 L188.92,264.90 L190.09,265.21 L191.26,265.52 L192.42,265.82 L193.59,266.12 L194.76,266.42 L195.93,266.71 L197.11,266.99 L198.28,267.27 L199.45,267.55 L200.63,267.82 L201.81,268.08 L202.98,268.34 L204.16,268.60 L205.34,268.85 L206.52,269.10 L207.71,269.34 L208.89,269.57 L210.07,269.81 L211.26,270.03 L212.44,270.25 L213.63,270.47 L214.82,270.68 L216.00,270.89 L217.19,271.09 L218.38,271.29 L219.57,271.48 L220.76,271.67 L221.95,271.85 L223.15,272.03 L224.34,272.20 L225.53,272.37 L226.72,272.53 L227.92,272.69 L229.11,272.84 L230.31,272.99 L231.50,273.13 L232.70,273.27 L233.89,273.40 L235.09,273.53 L236.28,273.65 L237.48,273.77 L238.68,273.88 L239.87,273.99 L241.07,274.09 L242.27,274.19 L243.47,274.29 L244.67,274.38 L245.86,274.47 L247.06,274.55 L248.26,274.63 L249.46,274.70 L250.66,274.78 L251.86,274.84 L253.06,274.91 L254.26,274.97 L255.46,275.03 L256.66,275.08 L257.86,275.13 L259.07,275.18 L260.27,275.23 L261.47,275.27 L262.67,275.31 L263.87,275.35 L265.08,275.38 L266.28,275.41 L267.48,275.44 L268.68,275.47 L269.89,275.49 L271.09,275.51 L272.29,275.53 L273.50,275.55 L274.70,275.57 L275.90,275.58 L277.11,275.60 L278.31,275.61 L279.51,275.62 L280.72,275.62 L281.92,275.63 L283.13,275.64 L284.33,275.64 L285.54,275.64 L286.74,275.64 L287.94,275.65 L289.15,275.64 L290.35,275.64 L291.56,275.64 L292.76,275.64 L293.97,275.63 L295.17,275.63 L296.38,275.62 L297.58,275.62 L298.79,275.61 L299.99,275.60 L301.20,275.60 L302.40,275.59 L303.61,275.58 L304.81,275.57 L306.02,275.56 L307.22,275.55 L308.43,275.54 L309.63,275.53 L310.84,275.52 L312.04,275.51 L313.25,275.50 L314.45,275.50 L315.66,275.49 L316.86,275.48 L318.07,275.47 L319.27,275.46 L320.48,275.45 L321.68,275.44 L322.89,275.44 L324.09,275.43 L325.30,275.43 L326.50,275.42 L327.71,275.42 L328.91,275.41 L330.12,275.41 L331.32,275.41 L332.53,275.41 L333.73,275.41 L334.94,275.41 L336.14,275.41 L337.34,275.41 L338.55,275.42 L339.75,275.42 L340.96,275.43 L342.16,275.44 L343.36,275.45 L344.57,275.46 L345.77,275.48 L346.97,275.49 L348.18,275.51 L349.38,275.53 L350.58,275.55 L351.79,275.57 L352.99,275.59 L354.19,275.62" stroke="#fff726"/>
<rect x="292.80" y="46.70" width="8.50" height="8.50" fill="none" stroke="#ff4040" stroke-width="1"/>
<text x="305.00" y="53.25" class="lg">Bio04</text>
<rect x="292.80" y="56.60" width="8.50" height="8.50" fill="none" stroke="#3a3a3a" stroke-width="1"/>
<text x="305.00" y="63.15" class="lg">Bio05</text>
<rect x="292.80" y="66.50" width="8.50" height="8.50" fill="none" stroke="#4fd04f" stroke-width="1"/>
<text x="305.00" y="73.05" class="lg">Bio16</text>
<rect x="292.80" y="76.40" width="8.50" height="8.50" fill="none" stroke="#b040c4" stroke-width="1"/>
<text x="305.00" y="82.95" class="lg">Bio17</text>
<rect x="292.80" y="86.30" width="8.50" height="8.50" fill="none" stroke="#4646ff" stroke-width="1"/>
<text x="305.00" y="92.85" class="lg">S_BS</text>
<rect x="292.80" y="96.20" width="8.50" height="8.50" fill="none" stroke="#ff9840" stroke-width="1"/>
<text x="305.00" y="102.75" class="lg">S_CACO3</text>
<rect x="292.80" y="106.10" width="8.50" height="8.50" fill="none" stroke="#fff726" stroke-width="1"/>
<text x="305.00" y="112.65" class="lg">S_CEC_CLAY</text>
<text x="-0.2" y="13.6" class="pl">A</text>
<line x1="395.0" y1="20.6" x2="677.3" y2="20.6" stroke="#c0c0c0" stroke-width="1.3"/><line x1="676.6" y1="20.0" x2="676.6" y2="287.9" stroke="#c0c0c0" stroke-width="1.3"/><line x1="396.0" y1="20.0" x2="396.0" y2="287.9" stroke="#d6d6d6" stroke-width="1.9"/>
<line x1="394.0" y1="22.3" x2="396.0" y2="22.3" stroke="#555" stroke-width="0.8"/>
<text x="393.2" y="24.9" class="tk" text-anchor="end">10</text>
<line x1="394.0" y1="66.2" x2="396.0" y2="66.2" stroke="#555" stroke-width="0.8"/>
<text x="393.2" y="68.8" class="tk" text-anchor="end">8</text>
<line x1="394.0" y1="110.1" x2="396.0" y2="110.1" stroke="#555" stroke-width="0.8"/>
<text x="393.2" y="112.7" class="tk" text-anchor="end">6</text>
<line x1="394.0" y1="197.8" x2="396.0" y2="197.8" stroke="#555" stroke-width="0.8"/>
<text x="393.2" y="200.4" class="tk" text-anchor="end">1.0</text>
<line x1="394.0" y1="242.3" x2="396.0" y2="242.3" stroke="#555" stroke-width="0.8"/>
<text x="393.2" y="244.9" class="tk" text-anchor="end">0.5</text>
<line x1="394.0" y1="287.0" x2="396.0" y2="287.0" stroke="#555" stroke-width="0.8"/>
<text x="393.2" y="289.6" class="tk" text-anchor="end">0.0</text>
<line x1="396.6" y1="287.0" x2="396.6" y2="288.5" stroke="#555" stroke-width="0.8"/>
<text x="396.6" y="295.1" class="tk" text-anchor="middle">0.0</text>
<line x1="536.4" y1="287.0" x2="536.4" y2="288.5" stroke="#555" stroke-width="0.8"/>
<text x="536.4" y="295.1" class="tk" text-anchor="middle">0.5</text>
<line x1="676.5" y1="287.0" x2="676.5" y2="288.5" stroke="#555" stroke-width="0.8"/>
<text x="677.6" y="295.1" class="tk" text-anchor="middle">1.0</text>
<text x="535.8" y="303.0" class="ti" text-anchor="middle">Difference in allele frequency between maximum and minimum climate value and soil</text>
<text transform="translate(382.9,155.5) rotate(-90)" class="ti" style="font-size:7.8px" text-anchor="middle">Density</text>
<path d="M396.58,138.16 L397.64,138.48 L398.62,138.91 L399.53,139.44 L400.39,140.05 L401.18,140.74 L401.93,141.50 L402.63,142.32 L403.30,143.19 L403.94,144.10 L404.55,145.04 L405.15,146.00 L405.74,146.98 L406.32,147.95 L406.90,148.92 L407.50,149.87 L408.11,150.79 L408.74,151.67 L409.39,152.51 L410.09,153.30" stroke="#4646ff" clip-path="url(#bup)"/>
<path d="M396.94,20.73 L397.13,21.94 L397.33,23.14 L397.52,24.35 L397.70,25.55 L397.89,26.76 L398.07,27.96 L398.25,29.17 L398.42,30.37 L398.59,31.58 L398.76,32.79 L398.93,34.00 L399.09,35.20 L399.25,36.41 L399.41,37.62 L399.57,38.83 L399.72,40.04 L399.87,41.25 L400.02,42.46 L400.17,43.67 L400.31,44.88 L400.46,46.09 L400.60,47.30 L400.73,48.51 L400.87,49.72 L401.00,50.94 L401.14,52.15 L401.27,53.36 L401.39,54.57 L401.52,55.79 L401.65,57.00 L401.77,58.21 L401.89,59.43 L402.01,60.64 L402.13,61.85 L402.25,63.07 L402.36,64.28 L402.48,65.50 L402.59,66.71 L402.70,67.93 L402.81,69.14 L402.92,70.36 L403.03,71.57 L403.14,72.79 L403.25,74.00 L403.35,75.22 L403.46,76.44 L403.56,77.65 L403.67,78.87 L403.77,80.08 L403.87,81.30 L403.97,82.52 L404.08,83.73 L404.18,84.95 L404.28,86.17 L404.38,87.38 L404.48,88.60 L404.58,89.82 L404.68,91.03 L404.78,92.25 L404.88,93.47 L404.98,94.69 L405.08,95.90 L405.18,97.12 L405.28,98.34 L405.38,99.55 L405.48,100.77 L405.58,101.99 L405.68,103.20 L405.78,104.42 L405.88,105.64 L405.98,106.85 L406.09,108.07 L406.19,109.29 L406.29,110.50 L406.40,111.72 L406.51,112.94 L406.61,114.15 L406.72,115.37 L406.83,116.58 L406.94,117.80 L407.05,119.02 L407.16,120.23 L407.28,121.45 L407.39,122.66 L407.51,123.88 L407.62,125.09 L407.74,126.31 L407.86,127.52 L407.98,128.73 L408.11,129.95 L408.23,131.16 L408.36,132.38 L408.49,133.59 L408.62,134.80 L408.75,136.02 L408.88,137.23 L409.02,138.44 L409.16,139.65 L409.30,140.87 L409.44,142.08 L409.58,143.29 L409.73,144.50 L409.88,145.71 L410.03,146.92 L410.18,148.13 L410.34,149.34 L410.50,150.55 L410.66,151.76 L410.82,152.97" stroke="#ff90b8" clip-path="url(#bup)"/>
<path d="M396.19,216.94 L397.40,216.59 L398.62,216.26 L399.83,215.94 L401.04,215.62 L402.25,215.32 L403.47,215.02 L404.68,214.74 L405.89,214.46 L407.10,214.19 L408.31,213.94 L409.52,213.69 L410.73,213.45 L411.94,213.22 L413.15,212.99 L414.36,212.78 L415.57,212.57 L416.78,212.38 L417.99,212.19 L419.20,212.01 L420.40,211.84 L421.61,211.68 L422.82,211.52 L424.03,211.38 L425.23,211.24 L426.44,211.11 L427.65,210.99 L428.85,210.87 L430.06,210.77 L431.26,210.67 L432.47,210.58 L433.67,210.50 L434.88,210.42 L436.08,210.36 L437.28,210.30 L438.49,210.25 L439.69,210.20 L440.89,210.17 L442.09,210.14 L443.30,210.11 L444.50,210.10 L445.70,210.09 L446.90,210.09 L448.10,210.10 L449.30,210.11 L450.50,210.13 L451.70,210.16 L452.89,210.19 L454.09,210.23 L455.29,210.28 L456.49,210.33 L457.68,210.39 L458.88,210.46 L460.08,210.53 L461.27,210.61 L462.47,210.70 L463.66,210.79 L464.86,210.89 L466.05,210.99 L467.24,211.10 L468.44,211.21 L469.63,211.34 L470.82,211.46 L472.01,211.60 L473.21,211.74 L474.40,211.88 L475.59,212.03 L476.78,212.19 L477.97,212.35 L479.16,212.51 L480.34,212.69 L481.53,212.86 L482.72,213.04 L483.91,213.23 L485.09,213.42 L486.28,213.62 L487.47,213.82 L488.65,214.03 L489.84,214.24 L491.02,214.46 L492.20,214.68 L493.39,214.91 L494.57,215.14 L495.75,215.37 L496.93,215.61 L498.12,215.86 L499.30,216.11 L500.48,216.36 L501.66,216.61 L502.84,216.88 L504.01,217.14 L505.19,217.41 L506.37,217.68 L507.55,217.96 L508.72,218.24 L509.90,218.52 L511.08,218.81 L512.25,219.10 L513.42,219.40 L514.60,219.70 L515.77,220.00 L516.94,220.30 L518.12,220.61 L519.29,220.93 L520.46,221.24 L521.63,221.56 L522.80,221.88 L523.97,222.20 L525.14,222.53 L526.31,222.86 L527.47,223.19 L528.64,223.53 L529.81,223.87 L530.97,224.21 L532.14,224.55 L533.30,224.90 L534.47,225.25 L535.63,225.60 L536.79,225.95 L537.95,226.31 L539.11,226.66 L540.28,227.02 L541.44,227.38 L542.60,227.75 L543.75,228.11 L544.91,228.48 L546.07,228.85 L547.23,229.22 L548.38,229.59 L549.54,229.97 L550.69,230.34 L551.85,230.72 L553.00,231.10 L554.16,231.48 L555.31,231.86 L556.46,232.24 L557.61,232.63 L558.76,233.01 L559.91,233.40 L561.06,233.78 L562.21,234.17 L563.36,234.56 L564.50,234.95 L565.65,235.34 L566.80,235.73 L567.94,236.12 L569.08,236.51 L570.23,236.91 L571.37,237.30 L572.51,237.69 L573.66,238.09 L574.80,238.48 L575.94,238.88 L577.08,239.27 L578.22,239.66 L579.36,240.06 L580.50,240.45 L581.64,240.85 L582.78,241.24 L583.92,241.64 L585.06,242.03 L586.20,242.43 L587.34,242.82 L588.48,243.21 L589.62,243.60 L590.76,244.00 L591.89,244.39 L593.03,244.78 L594.17,245.17 L595.31,245.56 L596.45,245.95 L597.59,246.34 L598.73,246.73 L599.87,247.11 L601.01,247.50 L602.15,247.88 L603.29,248.27 L604.43,248.65 L605.57,249.03 L606.71,249.41 L607.86,249.79 L609.00,250.17 L610.14,250.54 L611.28,250.92 L612.43,251.29 L613.57,251.66 L614.72,252.03 L615.86,252.40 L617.01,252.77 L618.16,253.13 L619.30,253.49 L620.45,253.85 L621.60,254.21 L622.75,254.57 L623.90,254.92 L625.05,255.28 L626.21,255.63 L627.36,255.98 L628.52,256.32 L629.67,256.66 L630.83,257.01 L631.99,257.35 L633.14,257.68 L634.30,258.02 L635.47,258.35 L636.63,258.67 L637.79,259.00 L638.95,259.32 L640.12,259.65 L641.29,259.96 L642.45,260.28 L643.62,260.59 L644.79,260.90 L645.96,261.21 L647.13,261.52 L648.31,261.83 L649.48,262.13 L650.65,262.43 L651.83,262.73 L653.00,263.02 L654.18,263.32 L655.36,263.61 L656.54,263.90 L657.72,264.18 L658.90,264.47 L660.08,264.76 L661.26,265.04 L662.44,265.32 L663.62,265.60 L664.81,265.87 L665.99,266.15 L667.17,266.42 L668.36,266.70 L669.55,266.97 L670.73,267.24 L671.92,267.50 L673.11,267.77 L674.29,268.03 L675.48,268.30 L676.67,268.56" stroke="#ff4040" clip-path="url(#blo)"/>
<path d="M396.36,226.15 L397.58,226.11 L398.81,226.07 L400.03,226.03 L401.25,226.00 L402.46,225.97 L403.68,225.95 L404.90,225.93 L406.12,225.92 L407.34,225.90 L408.55,225.90 L409.77,225.89 L410.99,225.89 L412.20,225.89 L413.42,225.90 L414.63,225.91 L415.84,225.93 L417.06,225.94 L418.27,225.97 L419.48,225.99 L420.69,226.02 L421.91,226.05 L423.12,226.09 L424.33,226.13 L425.54,226.17 L426.75,226.22 L427.96,226.27 L429.17,226.32 L430.37,226.38 L431.58,226.44 L432.79,226.50 L434.00,226.56 L435.20,226.63 L436.41,226.71 L437.62,226.78 L438.82,226.86 L440.03,226.94 L441.23,227.03 L442.43,227.12 L443.64,227.21 L444.84,227.30 L446.05,227.40 L447.25,227.50 L448.45,227.60 L449.65,227.71 L450.85,227.82 L452.05,227.93 L453.26,228.04 L454.46,228.16 L455.66,228.28 L456.86,228.40 L458.06,228.53 L459.25,228.66 L460.45,228.79 L461.65,228.92 L462.85,229.06 L464.05,229.19 L465.24,229.34 L466.44,229.48 L467.64,229.63 L468.83,229.77 L470.03,229.92 L471.23,230.08 L472.42,230.23 L473.62,230.39 L474.81,230.55 L476.01,230.72 L477.20,230.88 L478.39,231.05 L479.59,231.22 L480.78,231.39 L481.97,231.56 L483.17,231.74 L484.36,231.92 L485.55,232.10 L486.74,232.28 L487.93,232.46 L489.13,232.65 L490.32,232.84 L491.51,233.03 L492.70,233.22 L493.89,233.41 L495.08,233.61 L496.27,233.81 L497.46,234.01 L498.65,234.21 L499.84,234.41 L501.03,234.62 L502.21,234.82 L503.40,235.03 L504.59,235.24 L505.78,235.45 L506.97,235.66 L508.16,235.88 L509.34,236.10 L510.53,236.31 L511.72,236.53 L512.90,236.75 L514.09,236.97 L515.28,237.20 L516.46,237.42 L517.65,237.65 L518.84,237.88 L520.02,238.10 L521.21,238.33 L522.39,238.56 L523.58,238.80 L524.76,239.03 L525.95,239.27 L527.13,239.50 L528.32,239.74 L529.50,239.98 L530.69,240.21 L531.87,240.45 L533.06,240.70 L534.24,240.94 L535.42,241.18 L536.61,241.42 L537.79,241.67 L538.98,241.91 L540.16,242.16 L541.34,242.41 L542.53,242.66 L543.71,242.90 L544.89,243.15 L546.07,243.40 L547.26,243.65 L548.44,243.90 L549.62,244.16 L550.81,244.41 L551.99,244.66 L553.17,244.92 L554.35,245.17 L555.54,245.42 L556.72,245.68 L557.90,245.93 L559.08,246.19 L560.26,246.45 L561.45,246.70 L562.63,246.96 L563.81,247.22 L564.99,247.47 L566.17,247.73 L567.36,247.99 L568.54,248.25 L569.72,248.50 L570.90,248.76 L572.08,249.02 L573.27,249.28 L574.45,249.54 L575.63,249.80 L576.81,250.05 L577.99,250.31 L579.18,250.57 L580.36,250.83 L581.54,251.09 L582.72,251.34 L583.90,251.60 L585.09,251.86 L586.27,252.11 L587.45,252.37 L588.63,252.63 L589.81,252.88 L591.00,253.14 L592.18,253.40 L593.36,253.65 L594.54,253.90 L595.72,254.16 L596.91,254.41 L598.09,254.67 L599.27,254.92 L600.45,255.17 L601.64,255.42 L602.82,255.67 L604.00,255.92 L605.19,256.17 L606.37,256.42 L607.55,256.67 L608.74,256.92 L609.92,257.16 L611.10,257.41 L612.29,257.65 L613.47,257.90 L614.65,258.14 L615.84,258.38 L617.02,258.62 L618.20,258.86 L619.39,259.10 L620.57,259.34 L621.76,259.58 L622.94,259.81 L624.13,260.05 L625.31,260.28 L626.50,260.51 L627.68,260.74 L628.87,260.97 L630.05,261.20 L631.24,261.43 L632.42,261.66 L633.61,261.88 L634.80,262.11 L635.98,262.33 L637.17,262.55 L638.36,262.77 L639.54,262.99 L640.73,263.20 L641.92,263.42 L643.11,263.63 L644.29,263.84 L645.48,264.05 L646.67,264.26 L647.86,264.47 L649.05,264.67 L650.24,264.87 L651.42,265.08 L652.61,265.28 L653.80,265.47 L654.99,265.67 L656.18,265.86 L657.37,266.06 L658.56,266.25 L659.75,266.44 L660.95,266.62 L662.14,266.81 L663.33,266.99 L664.52,267.17 L665.71,267.35 L666.90,267.52 L668.10,267.70 L669.29,267.87 L670.48,268.04 L671.68,268.21 L672.87,268.37 L674.06,268.54 L675.26,268.70 L676.45,268.86" stroke="#3a3a3a" clip-path="url(#blo)"/>
<path d="M396.05,161.16 L397.34,160.81 L398.62,160.50 L399.90,160.23 L401.16,160.00 L402.43,159.81 L403.68,159.66 L404.93,159.54 L406.16,159.46 L407.40,159.41 L408.62,159.40 L409.84,159.42 L411.05,159.47 L412.25,159.55 L413.44,159.67 L414.63,159.82 L415.80,159.99 L416.97,160.20 L418.14,160.43 L419.29,160.69 L420.44,160.98 L421.57,161.29 L422.70,161.63 L423.83,162.00 L424.94,162.38 L426.04,162.79 L427.14,163.23 L428.23,163.68 L429.31,164.15 L430.38,164.65 L431.44,165.16 L432.50,165.69 L433.54,166.24 L434.58,166.81 L435.61,167.39 L436.63,167.99 L437.65,168.61 L438.65,169.24 L439.66,169.88 L440.65,170.54 L441.64,171.21 L442.62,171.90 L443.60,172.59 L444.57,173.30 L445.53,174.02 L446.49,174.75 L447.45,175.49 L448.40,176.24 L449.35,176.99 L450.29,177.76 L451.23,178.53 L452.16,179.31 L453.09,180.10 L454.02,180.89 L454.94,181.68 L455.87,182.48 L456.78,183.29 L457.70,184.10 L458.62,184.91 L459.53,185.72 L460.44,186.53 L461.35,187.35 L462.26,188.17 L463.17,188.98 L464.07,189.80 L464.98,190.61 L465.88,191.43 L466.79,192.25 L467.69,193.06 L468.59,193.88 L469.50,194.69 L470.40,195.51 L471.30,196.32 L472.20,197.14 L473.10,197.95 L474.00,198.77 L474.90,199.58 L475.80,200.39 L476.70,201.20 L477.61,202.01 L478.51,202.82 L479.41,203.63 L480.31,204.43 L481.21,205.24 L482.11,206.04 L483.02,206.85 L483.92,207.65 L484.82,208.45 L485.73,209.24 L486.63,210.04 L487.54,210.84 L488.45,211.63 L489.36,212.42 L490.26,213.21 L491.17,214.00 L492.09,214.78 L493.00,215.56 L493.91,216.34 L494.83,217.12 L495.75,217.90 L496.67,218.67 L497.59,219.44 L498.51,220.21 L499.43,220.98 L500.36,221.74 L501.28,222.50 L502.21,223.26 L503.15,224.01 L504.08,224.76 L505.02,225.51 L505.95,226.26 L506.89,227.00 L507.84,227.74 L508.78,228.47 L509.73,229.21 L510.68,229.93 L511.63,230.66 L512.59,231.38 L513.55,232.10 L514.51,232.81 L515.47,233.52 L516.44,234.22 L517.41,234.93 L518.39,235.62 L519.36,236.32 L520.34,237.01 L521.33,237.69 L522.31,238.37 L523.30,239.05 L524.30,239.72 L525.30,240.39 L526.30,241.05 L527.30,241.71 L528.31,242.36 L529.33,243.01 L530.34,243.65 L531.36,244.29 L532.39,244.92 L533.42,245.55 L534.45,246.17 L535.48,246.79 L536.52,247.40 L537.56,248.01 L538.61,248.61 L539.66,249.21 L540.71,249.80 L541.77,250.39 L542.82,250.97 L543.89,251.55 L544.95,252.12 L546.02,252.69 L547.09,253.25 L548.17,253.81 L549.24,254.36 L550.32,254.91 L551.41,255.45 L552.49,255.98 L553.58,256.51 L554.68,257.04 L555.77,257.56 L556.87,258.07 L557.97,258.58 L559.07,259.08 L560.18,259.58 L561.29,260.07 L562.40,260.56 L563.51,261.04 L564.63,261.51 L565.74,261.98 L566.86,262.45 L567.99,262.90 L569.11,263.36 L570.24,263.80 L571.37,264.24 L572.50,264.68 L573.63,265.11 L574.77,265.53 L575.91,265.95 L577.05,266.36 L578.19,266.77 L579.33,267.17 L580.48,267.56 L581.62,267.95 L582.77,268.33 L583.92,268.71 L585.07,269.08 L586.23,269.44 L587.38,269.80 L588.54,270.15 L589.70,270.50 L590.86,270.84 L592.02,271.17 L593.18,271.50 L594.35,271.82 L595.51,272.13 L596.68,272.44 L597.85,272.75 L599.02,273.04 L600.19,273.33 L601.36,273.61 L602.53,273.89 L603.70,274.16 L604.88,274.43 L606.05,274.68 L607.23,274.94 L608.41,275.18 L609.59,275.42 L610.76,275.65 L611.94,275.88 L613.12,276.10 L614.30,276.31 L615.49,276.52 L616.67,276.72 L617.85,276.92 L619.04,277.11 L620.22,277.30 L621.40,277.48 L622.59,277.66 L623.78,277.83 L624.96,278.00 L626.15,278.16 L627.34,278.32 L628.53,278.48 L629.72,278.63 L630.91,278.78 L632.10,278.92 L633.29,279.06 L634.49,279.20 L635.68,279.34 L636.87,279.47 L638.07,279.60 L639.26,279.73 L640.46,279.86 L641.65,279.98 L642.85,280.10 L644.05,280.22 L645.25,280.34 L646.44,280.46 L647.64,280.58 L648.84,280.69 L650.04,280.81 L651.24,280.92 L652.44,281.03 L653.64,281.14 L654.85,281.26 L656.05,281.37 L657.25,281.48 L658.45,281.59 L659.66,281.71 L660.86,281.82 L662.07,281.93 L663.27,282.05 L664.48,282.17 L665.68,282.28 L666.89,282.40 L668.09,282.52 L669.30,282.65 L670.51,282.77 L671.72,282.90 L672.92,283.02 L674.13,283.16 L675.34,283.29 L676.55,283.43" stroke="#4fd04f" clip-path="url(#blo)"/>
<path d="M396.42,175.70 L397.62,175.44 L398.82,175.20 L400.02,174.98 L401.22,174.78 L402.42,174.61 L403.62,174.46 L404.82,174.33 L406.03,174.22 L407.23,174.14 L408.43,174.07 L409.63,174.03 L410.82,174.00 L412.02,174.00 L413.22,174.01 L414.42,174.05 L415.61,174.10 L416.80,174.18 L418.00,174.27 L419.19,174.38 L420.38,174.51 L421.56,174.66 L422.75,174.83 L423.93,175.01 L425.11,175.21 L426.29,175.43 L427.46,175.66 L428.64,175.92 L429.80,176.18 L430.97,176.47 L432.14,176.77 L433.30,177.08 L434.45,177.42 L435.61,177.76 L436.76,178.12 L437.90,178.50 L439.05,178.89 L440.18,179.29 L441.32,179.71 L442.45,180.14 L443.57,180.59 L444.69,181.04 L445.81,181.51 L446.92,182.00 L448.03,182.49 L449.13,183.00 L450.23,183.52 L451.32,184.05 L452.40,184.59 L453.48,185.14 L454.56,185.70 L455.63,186.28 L456.69,186.86 L457.74,187.46 L458.79,188.06 L459.84,188.67 L460.87,189.29 L461.90,189.93 L462.93,190.56 L463.94,191.21 L464.95,191.87 L465.96,192.53 L466.96,193.20 L467.95,193.88 L468.94,194.56 L469.93,195.25 L470.91,195.95 L471.88,196.65 L472.86,197.35 L473.82,198.06 L474.79,198.77 L475.75,199.49 L476.71,200.21 L477.67,200.93 L478.63,201.66 L479.58,202.39 L480.54,203.12 L481.49,203.85 L482.44,204.58 L483.39,205.31 L484.34,206.04 L485.29,206.78 L486.24,207.51 L487.19,208.24 L488.14,208.97 L489.10,209.70 L490.05,210.43 L491.01,211.15 L491.97,211.87 L492.93,212.59 L493.89,213.30 L494.86,214.02 L495.83,214.72 L496.80,215.42 L497.78,216.12 L498.76,216.81 L499.75,217.50 L500.74,218.18 L501.73,218.86 L502.72,219.54 L503.72,220.21 L504.72,220.88 L505.72,221.54 L506.73,222.20 L507.74,222.86 L508.75,223.51 L509.76,224.17 L510.77,224.82 L511.79,225.47 L512.80,226.11 L513.82,226.76 L514.84,227.40 L515.86,228.04 L516.88,228.68 L517.91,229.32 L518.93,229.96 L519.95,230.60 L520.97,231.23 L522.00,231.87 L523.02,232.51 L524.05,233.14 L525.07,233.78 L526.09,234.42 L527.11,235.06 L528.14,235.70 L529.16,236.34 L530.18,236.98 L531.20,237.63 L532.21,238.27 L533.23,238.91 L534.25,239.56 L535.27,240.20 L536.29,240.84 L537.31,241.49 L538.33,242.13 L539.34,242.77 L540.36,243.41 L541.38,244.06 L542.40,244.70 L543.42,245.33 L544.44,245.97 L545.47,246.61 L546.49,247.24 L547.51,247.87 L548.54,248.50 L549.57,249.13 L550.60,249.76 L551.63,250.38 L552.66,251.00 L553.69,251.62 L554.72,252.24 L555.76,252.85 L556.80,253.46 L557.84,254.07 L558.88,254.67 L559.93,255.27 L560.98,255.87 L562.02,256.46 L563.08,257.04 L564.13,257.63 L565.19,258.21 L566.25,258.78 L567.31,259.35 L568.38,259.92 L569.45,260.48 L570.52,261.03 L571.59,261.58 L572.67,262.13 L573.74,262.66 L574.83,263.20 L575.91,263.73 L577.00,264.25 L578.09,264.76 L579.18,265.27 L580.27,265.78 L581.37,266.27 L582.47,266.76 L583.57,267.25 L584.67,267.72 L585.78,268.19 L586.89,268.65 L588.01,269.11 L589.12,269.55 L590.24,269.99 L591.36,270.43 L592.48,270.85 L593.61,271.27 L594.74,271.67 L595.87,272.07 L597.01,272.46 L598.14,272.85 L599.28,273.22 L600.42,273.58 L601.57,273.94 L602.72,274.29 L603.87,274.62 L605.02,274.95 L606.18,275.27 L607.34,275.58 L608.50,275.88 L609.66,276.16 L610.83,276.44 L612.00,276.71 L613.17,276.97 L614.35,277.22 L615.52,277.47 L616.70,277.70 L617.88,277.93 L619.07,278.14 L620.25,278.36 L621.44,278.56 L622.63,278.76 L623.82,278.95 L625.01,279.13 L626.20,279.31 L627.40,279.49 L628.59,279.66 L629.79,279.82 L630.99,279.98 L632.19,280.14 L633.39,280.29 L634.59,280.44 L635.79,280.58 L636.99,280.72 L638.19,280.86 L639.40,281.00 L640.60,281.13 L641.80,281.26 L643.01,281.40 L644.21,281.53 L645.42,281.66 L646.62,281.78 L647.82,281.91 L649.03,282.04 L650.23,282.17 L651.43,282.30 L652.63,282.43 L653.84,282.57 L655.04,282.70 L656.24,282.84 L657.43,282.97 L658.63,283.12 L659.83,283.26 L661.02,283.41 L662.22,283.56 L663.41,283.71 L664.60,283.87 L665.79,284.03 L666.98,284.20 L668.17,284.38 L669.35,284.55 L670.53,284.74 L671.71,284.93 L672.89,285.12 L674.07,285.33 L675.24,285.54 L676.41,285.76" stroke="#b040c4" clip-path="url(#blo)"/>
<path d="M434.85,154.16 L435.06,155.39 L435.27,156.61 L435.49,157.84 L435.71,159.05 L435.94,160.27 L436.17,161.48 L436.41,162.69 L436.65,163.89 L436.89,165.10 L437.15,166.30 L437.40,167.49 L437.67,168.69 L437.93,169.88 L438.20,171.06 L438.48,172.25 L438.76,173.43 L439.05,174.61 L439.34,175.79 L439.64,176.96 L439.94,178.13 L440.25,179.30 L440.56,180.47 L440.88,181.63 L441.20,182.79 L441.53,183.95 L441.86,185.11 L442.19,186.26 L442.54,187.41 L442.88,188.56 L443.23,189.71 L443.59,190.85 L443.95,191.99 L444.32,193.13 L444.69,194.27 L445.07,195.41 L445.45,196.54 L445.83,197.67 L446.22,198.80 L446.62,199.93 L447.02,201.05 L447.42,202.18 L447.83,203.30 L448.25,204.42 L448.67,205.53 L449.09,206.65 L449.52,207.76 L449.96,208.88 L450.40,209.99 L450.84,211.10 L451.29,212.20 L451.74,213.31 L452.20,214.41 L452.66,215.51 L453.13,216.61 L453.61,217.71 L454.08,218.81 L454.56,219.91 L455.05,221.00 L455.54,222.09 L456.04,223.19 L456.54,224.28 L457.05,225.36 L457.56,226.45 L458.07,227.54 L458.59,228.62 L459.12,229.71 L459.65,230.79 L460.18,231.87 L460.72,232.96 L461.26,234.04 L461.81,235.11 L462.37,236.19 L462.92,237.27 L463.49,238.35 L464.05,239.42 L464.62,240.50 L465.20,241.57 L465.78,242.64 L466.37,243.71 L466.96,244.79 L467.55,245.86 L468.15,246.93 L468.76,248.00 L469.36,249.06 L469.98,250.13 L470.60,251.20 L471.22,252.27 L471.85,253.33 L472.48,254.39 L473.12,255.45 L473.77,256.50 L474.43,257.54 L475.10,258.58 L475.77,259.60 L476.46,260.62 L477.16,261.62 L477.87,262.61 L478.59,263.59 L479.32,264.56 L480.07,265.51 L480.83,266.44 L481.60,267.35 L482.40,268.25 L483.20,269.12 L484.03,269.98 L484.87,270.81 L485.72,271.62 L486.60,272.40 L487.50,273.16 L488.41,273.89 L489.35,274.59 L490.30,275.27 L491.28,275.91 L492.28,276.53 L493.31,277.11 L494.35,277.66 L495.42,278.17 L496.51,278.64 L497.62,279.07 L498.74,279.46 L499.88,279.79 L501.03,280.08 L502.19,280.31 L503.36,280.48 L504.54,280.58 L505.72,280.63 L506.90,280.61 L508.09,280.53 L509.28,280.41 L510.47,280.24 L511.67,280.03 L512.86,279.79 L514.06,279.52 L515.26,279.22 L516.46,278.92 L517.66,278.60 L518.86,278.27 L520.06,277.95 L521.26,277.64 L522.46,277.33 L523.66,277.05 L524.86,276.79 L526.05,276.56 L527.24,276.36 L528.44,276.20 L529.62,276.07 L530.81,275.98 L531.99,275.93 L533.18,275.90 L534.36,275.90 L535.54,275.93 L536.71,275.99 L537.89,276.08 L539.06,276.19 L540.24,276.33 L541.41,276.49 L542.58,276.67 L543.75,276.87 L544.92,277.08 L546.09,277.32 L547.25,277.57 L548.42,277.84 L549.59,278.12 L550.75,278.42 L551.92,278.72 L553.08,279.04 L554.25,279.36 L555.41,279.69 L556.58,280.03 L557.74,280.38 L558.91,280.72 L560.07,281.07 L561.24,281.42 L562.41,281.78 L563.57,282.13 L564.74,282.47 L565.91,282.82 L567.08,283.16 L568.25,283.49 L569.42,283.82 L570.60,284.13 L571.77,284.44 L572.95,284.73 L574.12,285.02 L575.30,285.29 L576.48,285.54 L577.66,285.78 L578.85,286.00 L580.03,286.20 L581.22,286.38 L582.41,286.55 L583.60,286.69 L584.80,286.82 L585.99,286.94 L587.19,287.03 L588.39,287.12 L589.59,287.19 L590.79,287.24 L591.99,287.29 L593.20,287.32 L594.40,287.34 L595.61,287.35 L596.81,287.36 L598.02,287.35 L599.23,287.34 L600.44,287.32 L601.65,287.30 L602.86,287.27 L604.07,287.23 L605.28,287.20 L606.49,287.16 L607.70,287.12 L608.91,287.08 L610.12,287.04 L611.33,287.00 L612.54,286.96 L613.75,286.93 L614.96,286.90 L616.17,286.87 L617.38,286.85 L618.59,286.83 L619.80,286.81 L621.01,286.80 L622.22,286.79 L623.42,286.78 L624.63,286.78 L625.84,286.78 L627.04,286.78 L628.25,286.79 L629.46,286.80 L630.66,286.80 L631.87,286.82 L633.07,286.83 L634.28,286.84 L635.48,286.86 L636.69,286.87 L637.89,286.89 L639.10,286.91 L640.30,286.93 L641.51,286.95 L642.71,286.97 L643.92,286.99 L645.12,287.01 L646.33,287.02 L647.53,287.04 L648.74,287.06 L649.94,287.08 L651.15,287.09 L652.35,287.11 L653.56,287.12 L654.77,287.13 L655.97,287.14 L657.18,287.14 L658.38,287.15 L659.59,287.15 L660.80,287.15 L662.00,287.15 L663.21,287.14 L664.42,287.13 L665.63,287.12 L666.84,287.10 L668.04,287.08 L669.25,287.06 L670.46,287.03 L671.67,287.00 L672.88,286.96 L674.09,286.92 L675.31,286.87 L676.52,286.82" stroke="#4646ff" clip-path="url(#blo)"/>
<path d="M396.23,228.39 L397.45,228.17 L398.67,227.95 L399.89,227.74 L401.11,227.54 L402.33,227.34 L403.55,227.14 L404.76,226.95 L405.98,226.77 L407.20,226.59 L408.41,226.42 L409.63,226.25 L410.85,226.09 L412.06,225.93 L413.28,225.77 L414.49,225.63 L415.71,225.48 L416.92,225.35 L418.14,225.22 L419.35,225.09 L420.57,224.97 L421.78,224.85 L422.99,224.74 L424.21,224.63 L425.42,224.53 L426.63,224.43 L427.84,224.33 L429.06,224.25 L430.27,224.16 L431.48,224.08 L432.69,224.01 L433.90,223.94 L435.11,223.87 L436.32,223.81 L437.53,223.76 L438.74,223.70 L439.95,223.66 L441.16,223.61 L442.37,223.58 L443.58,223.54 L444.78,223.51 L445.99,223.49 L447.20,223.47 L448.41,223.45 L449.61,223.44 L450.82,223.43 L452.03,223.42 L453.23,223.42 L454.44,223.43 L455.65,223.44 L456.85,223.45 L458.06,223.47 L459.26,223.49 L460.47,223.51 L461.67,223.54 L462.88,223.57 L464.08,223.61 L465.28,223.64 L466.49,223.69 L467.69,223.74 L468.89,223.79 L470.10,223.84 L471.30,223.90 L472.50,223.96 L473.70,224.03 L474.91,224.10 L476.11,224.17 L477.31,224.25 L478.51,224.33 L479.71,224.41 L480.91,224.49 L482.11,224.58 L483.31,224.68 L484.51,224.78 L485.71,224.88 L486.91,224.98 L488.11,225.09 L489.31,225.19 L490.51,225.31 L491.70,225.42 L492.90,225.54 L494.10,225.67 L495.30,225.79 L496.50,225.92 L497.69,226.05 L498.89,226.19 L500.09,226.32 L501.28,226.46 L502.48,226.61 L503.68,226.75 L504.87,226.90 L506.07,227.05 L507.26,227.21 L508.46,227.36 L509.65,227.52 L510.85,227.69 L512.04,227.85 L513.24,228.02 L514.43,228.19 L515.62,228.36 L516.82,228.54 L518.01,228.72 L519.20,228.90 L520.40,229.08 L521.59,229.27 L522.78,229.45 L523.98,229.64 L525.17,229.83 L526.36,230.03 L527.55,230.23 L528.74,230.42 L529.93,230.63 L531.12,230.83 L532.32,231.03 L533.51,231.24 L534.70,231.45 L535.89,231.66 L537.08,231.88 L538.27,232.09 L539.46,232.31 L540.65,232.53 L541.84,232.75 L543.02,232.97 L544.21,233.20 L545.40,233.42 L546.59,233.65 L547.78,233.88 L548.97,234.11 L550.16,234.35 L551.34,234.58 L552.53,234.82 L553.72,235.06 L554.91,235.30 L556.09,235.54 L557.28,235.78 L558.47,236.03 L559.65,236.27 L560.84,236.52 L562.02,236.77 L563.21,237.02 L564.40,237.27 L565.58,237.52 L566.77,237.77 L567.95,238.03 L569.14,238.28 L570.32,238.54 L571.51,238.80 L572.69,239.06 L573.88,239.32 L575.06,239.58 L576.24,239.84 L577.43,240.11 L578.61,240.37 L579.80,240.63 L580.98,240.90 L582.16,241.17 L583.34,241.43 L584.53,241.70 L585.71,241.97 L586.89,242.24 L588.08,242.51 L589.26,242.78 L590.44,243.06 L591.62,243.33 L592.80,243.60 L593.98,243.87 L595.17,244.15 L596.35,244.42 L597.53,244.70 L598.71,244.97 L599.89,245.25 L601.07,245.52 L602.25,245.80 L603.43,246.08 L604.61,246.35 L605.79,246.63 L606.97,246.91 L608.15,247.19 L609.33,247.46 L610.51,247.74 L611.69,248.02 L612.87,248.30 L614.05,248.57 L615.23,248.85 L616.41,249.13 L617.58,249.41 L618.76,249.68 L619.94,249.96 L621.12,250.24 L622.30,250.52 L623.48,250.79 L624.65,251.07 L625.83,251.35 L627.01,251.62 L628.19,251.90 L629.36,252.17 L630.54,252.45 L631.72,252.72 L632.89,252.99 L634.07,253.27 L635.25,253.54 L636.42,253.81 L637.60,254.08 L638.78,254.36 L639.95,254.63 L641.13,254.90 L642.31,255.16 L643.48,255.43 L644.66,255.70 L645.83,255.97 L647.01,256.23 L648.18,256.50 L649.36,256.76 L650.53,257.02 L651.71,257.29 L652.88,257.55 L654.06,257.81 L655.23,258.07 L656.41,258.32 L657.58,258.58 L658.76,258.84 L659.93,259.09 L661.10,259.34 L662.28,259.60 L663.45,259.85 L664.63,260.10 L665.80,260.34 L666.97,260.59 L668.15,260.84 L669.32,261.08 L670.49,261.32 L671.67,261.56 L672.84,261.80 L674.01,262.04 L675.19,262.28 L676.36,262.51" stroke="#ff9840" clip-path="url(#blo)"/>
<path d="M396.38,174.94 L397.44,174.21 L398.50,173.51 L399.58,172.84 L400.66,172.20 L401.76,171.60 L402.86,171.03 L403.97,170.48 L405.08,169.97 L406.21,169.49 L407.34,169.03 L408.47,168.61 L409.62,168.22 L410.76,167.85 L411.92,167.52 L413.08,167.21 L414.24,166.93 L415.41,166.68 L416.58,166.45 L417.75,166.25 L418.93,166.08 L420.11,165.93 L421.30,165.81 L422.49,165.72 L423.67,165.65 L424.86,165.61 L426.05,165.59 L427.25,165.60 L428.44,165.62 L429.63,165.68 L430.82,165.75 L432.01,165.85 L433.20,165.98 L434.39,166.12 L435.58,166.29 L436.77,166.48 L437.95,166.69 L439.13,166.92 L440.31,167.17 L441.48,167.44 L442.66,167.74 L443.82,168.05 L444.98,168.38 L446.14,168.73 L447.30,169.10 L448.44,169.49 L449.58,169.90 L450.72,170.32 L451.85,170.77 L452.97,171.23 L454.08,171.70 L455.19,172.20 L456.29,172.71 L457.38,173.23 L458.47,173.77 L459.54,174.33 L460.60,174.90 L461.66,175.49 L462.70,176.09 L463.74,176.71 L464.77,177.33 L465.78,177.97 L466.79,178.63 L467.79,179.29 L468.78,179.97 L469.77,180.66 L470.75,181.36 L471.72,182.07 L472.68,182.78 L473.64,183.51 L474.59,184.24 L475.54,184.99 L476.48,185.74 L477.41,186.50 L478.35,187.26 L479.27,188.03 L480.20,188.81 L481.12,189.59 L482.03,190.37 L482.95,191.16 L483.86,191.95 L484.77,192.75 L485.68,193.55 L486.59,194.35 L487.49,195.15 L488.40,195.95 L489.30,196.76 L490.20,197.56 L491.11,198.36 L492.01,199.17 L492.92,199.97 L493.83,200.77 L494.74,201.56 L495.65,202.36 L496.56,203.15 L497.48,203.93 L498.40,204.72 L499.32,205.50 L500.24,206.27 L501.17,207.05 L502.10,207.82 L503.03,208.58 L503.96,209.35 L504.89,210.11 L505.83,210.87 L506.76,211.63 L507.70,212.38 L508.64,213.14 L509.58,213.89 L510.52,214.64 L511.47,215.39 L512.41,216.14 L513.35,216.88 L514.30,217.63 L515.24,218.38 L516.19,219.12 L517.13,219.87 L518.07,220.62 L519.02,221.36 L519.96,222.11 L520.91,222.86 L521.85,223.61 L522.79,224.35 L523.73,225.11 L524.67,225.86 L525.61,226.61 L526.55,227.37 L527.49,228.12 L528.43,228.88 L529.36,229.64 L530.29,230.41 L531.23,231.17 L532.16,231.93 L533.09,232.70 L534.03,233.46 L534.96,234.22 L535.89,234.98 L536.83,235.74 L537.76,236.50 L538.70,237.26 L539.64,238.01 L540.58,238.76 L541.52,239.51 L542.47,240.26 L543.42,241.00 L544.37,241.73 L545.32,242.47 L546.28,243.19 L547.24,243.91 L548.21,244.63 L549.17,245.34 L550.15,246.04 L551.13,246.74 L552.11,247.43 L553.10,248.11 L554.09,248.78 L555.09,249.44 L556.10,250.10 L557.11,250.75 L558.12,251.38 L559.15,252.01 L560.18,252.63 L561.22,253.23 L562.26,253.83 L563.32,254.41 L564.38,254.99 L565.44,255.55 L566.52,256.10 L567.60,256.65 L568.68,257.19 L569.76,257.72 L570.86,258.25 L571.95,258.78 L573.04,259.29 L574.14,259.81 L575.24,260.32 L576.34,260.84 L577.44,261.35 L578.54,261.86 L579.64,262.37 L580.74,262.88 L581.83,263.40 L582.93,263.91 L584.02,264.42 L585.12,264.93 L586.22,265.44 L587.31,265.95 L588.41,266.44 L589.51,266.94 L590.61,267.42 L591.72,267.90 L592.83,268.37 L593.94,268.84 L595.05,269.29 L596.17,269.74 L597.29,270.18 L598.41,270.61 L599.53,271.04 L600.66,271.45 L601.79,271.85 L602.92,272.25 L604.06,272.63 L605.20,273.01 L606.34,273.37 L607.48,273.73 L608.63,274.07 L609.78,274.41 L610.94,274.73 L612.09,275.04 L613.26,275.35 L614.42,275.64 L615.59,275.93 L616.75,276.20 L617.93,276.47 L619.10,276.73 L620.28,276.98 L621.46,277.22 L622.64,277.45 L623.82,277.68 L625.00,277.90 L626.19,278.11 L627.38,278.32 L628.57,278.52 L629.76,278.71 L630.96,278.90 L632.15,279.08 L633.35,279.26 L634.54,279.43 L635.74,279.60 L636.94,279.77 L638.14,279.93 L639.34,280.08 L640.54,280.24 L641.75,280.39 L642.95,280.54 L644.15,280.68 L645.36,280.82 L646.56,280.96 L647.76,281.10 L648.97,281.24 L650.17,281.38 L651.37,281.51 L652.58,281.65 L653.78,281.78 L654.98,281.92 L656.18,282.05 L657.38,282.19 L658.59,282.32 L659.78,282.46 L660.98,282.60 L662.18,282.74 L663.38,282.88 L664.57,283.03 L665.76,283.18 L666.96,283.33 L668.15,283.48 L669.33,283.64 L670.52,283.80 L671.71,283.96 L672.89,284.13 L674.07,284.30 L675.25,284.48 L676.43,284.67" stroke="#fff726" clip-path="url(#blo)"/>
<path d="M419.10,153.93 L419.26,155.12 L419.41,156.31 L419.55,157.51 L419.68,158.71 L419.79,159.91 L419.90,161.12 L420.00,162.32 L420.09,163.53 L420.18,164.74 L420.26,165.95 L420.35,167.17 L420.44,168.38 L420.53,169.59 L420.62,170.81 L420.72,172.02 L420.82,173.24 L420.94,174.45 L421.07,175.66 L421.21,176.87 L421.36,178.08 L421.53,179.28 L421.71,180.49 L421.92,181.69 L422.14,182.89 L422.39,184.08 L422.67,185.27 L422.96,186.46 L423.29,187.65 L423.64,188.83 L424.03,190.00 L424.44,191.17 L424.89,192.34 L425.38,193.50 L425.90,194.65 L426.47,195.78 L427.09,196.77 L427.80,197.50 L428.60,197.85 L429.51,197.73 L430.52,197.20 L431.58,196.40 L432.68,195.44 L433.77,194.47 L434.84,193.60 L435.88,192.96 L436.88,192.68 L437.82,192.86 L438.70,193.41 L439.51,194.18 L440.25,195.05 L440.93,195.98 L441.54,196.95 L442.08,197.98 L442.58,199.04 L443.02,200.15 L443.42,201.29 L443.78,202.46 L444.10,203.65 L444.40,204.87 L444.66,206.10 L444.91,207.35 L445.13,208.60 L445.35,209.86 L445.55,211.12 L445.76,212.38 L445.96,213.63 L446.18,214.86 L446.40,216.08 L446.64,217.29 L446.88,218.48 L447.13,219.66 L447.40,220.83 L447.67,221.99 L447.95,223.14 L448.23,224.29 L448.53,225.43 L448.82,226.57 L449.12,227.71 L449.43,228.85 L449.74,229.99 L450.05,231.13 L450.36,232.28 L450.68,233.43 L450.99,234.60 L451.31,235.77 L451.63,236.94 L451.95,238.12 L452.27,239.31 L452.59,240.49 L452.91,241.68 L453.24,242.87 L453.57,244.06 L453.91,245.25 L454.25,246.43 L454.59,247.61 L454.94,248.79 L455.29,249.96 L455.65,251.12 L456.02,252.27 L456.39,253.42 L456.77,254.55 L457.15,255.68 L457.54,256.80 L457.94,257.91 L458.35,259.01 L458.77,260.12 L459.20,261.22 L459.64,262.32 L460.09,263.43 L460.56,264.53 L461.04,265.65 L461.53,266.76 L462.04,267.89 L462.56,269.02 L463.10,270.16 L463.65,271.32 L464.22,272.49 L464.81,273.67 L465.42,274.85 L466.06,275.99 L466.73,277.09 L467.43,278.11 L468.18,279.03 L468.96,279.83 L469.80,280.48 L470.69,280.95 L471.63,281.23 L472.64,281.29 L473.70,281.13 L474.78,280.78 L475.88,280.26 L476.96,279.59 L478.01,278.78 L479.00,277.87 L479.92,276.87 L480.75,275.81 L481.51,274.70 L482.21,273.59 L482.90,272.50 L483.58,271.47 L484.30,270.53 L485.08,269.70 L485.94,269.01 L486.90,268.51 L487.98,268.20 L489.14,268.08 L490.32,268.14 L491.50,268.37 L492.64,268.77 L493.68,269.32 L494.63,270.02 L495.47,270.83 L496.24,271.75 L496.95,272.75 L497.62,273.81 L498.27,274.90 L498.90,276.00 L499.55,277.11 L500.22,278.18 L500.94,279.20 L501.72,280.15 L502.56,281.03 L503.45,281.84 L504.40,282.58 L505.40,283.25 L506.43,283.85 L507.51,284.40 L508.62,284.88 L509.76,285.31 L510.92,285.69 L512.10,286.01 L513.29,286.28 L514.49,286.51 L515.70,286.70 L516.91,286.84 L518.11,286.95 L519.29,287.02" stroke="#ff90b8" clip-path="url(#blo)"/>
<line x1="395.0" y1="287.0" x2="677.3" y2="287.0" stroke="#d2d2d2" stroke-width="1.8"/>
<rect x="394.8" y="152.5" width="2.4" height="6" fill="#fff" fill-opacity="0.45"/>
<line x1="394.3" y1="155.4" x2="397.6" y2="151.4" stroke="#5a5a5a" stroke-width="0.9" stroke-linecap="round"/>
<line x1="394.3" y1="159.5" x2="397.6" y2="155.4" stroke="#5a5a5a" stroke-width="0.9" stroke-linecap="round"/>
<rect x="675.4" y="152.5" width="2.4" height="6" fill="#fff" fill-opacity="0.45"/>
<line x1="674.9" y1="155.4" x2="678.2" y2="151.4" stroke="#5a5a5a" stroke-width="0.9" stroke-linecap="round"/>
<line x1="674.9" y1="159.5" x2="678.2" y2="155.4" stroke="#5a5a5a" stroke-width="0.9" stroke-linecap="round"/>
<rect x="613.50" y="49.20" width="8.50" height="8.50" fill="none" stroke="#ff4040" stroke-width="1"/>
<text x="625.70" y="55.75" class="lg">Bio01</text>
<rect x="613.50" y="59.20" width="8.50" height="8.50" fill="none" stroke="#3a3a3a" stroke-width="1"/>
<text x="625.70" y="65.75" class="lg">Bio07</text>
<rect x="613.50" y="69.20" width="8.50" height="8.50" fill="none" stroke="#4fd04f" stroke-width="1"/>
<text x="625.70" y="75.75" class="lg">Bio12</text>
<rect x="613.50" y="79.20" width="8.50" height="8.50" fill="none" stroke="#b040c4" stroke-width="1"/>
<text x="625.70" y="85.75" class="lg">S_GRAVEL</text>
<rect x="613.50" y="89.20" width="8.50" height="8.50" fill="none" stroke="#4646ff" stroke-width="1"/>
<text x="625.70" y="95.75" class="lg">T_CASO4</text>
<rect x="613.50" y="99.20" width="8.50" height="8.50" fill="none" stroke="#ff9840" stroke-width="1"/>
<text x="625.70" y="105.75" class="lg">T_CEC_SOIL</text>
<rect x="613.50" y="109.20" width="8.50" height="8.50" fill="none" stroke="#fff726" stroke-width="1"/>
<text x="625.70" y="115.75" class="lg">T_CLAY</text>
<rect x="613.50" y="119.20" width="8.50" height="8.50" fill="none" stroke="#ff90b8" stroke-width="1"/>
<text x="625.70" y="125.75" class="lg">T_PH_H2O</text>
<text x="377.6" y="13.7" class="pl">B</text>
<line x1="186.0" y1="335.0" x2="534.6" y2="335.0" stroke="#d8d8d8" stroke-width="1.8"/><line x1="533.8" y1="334.1" x2="533.8" y2="602.1" stroke="#cccccc" stroke-width="1.5"/><line x1="186.5" y1="334.1" x2="186.5" y2="602.1" stroke="#b0b0b0" stroke-width="1.1"/><line x1="186.0" y1="601.5" x2="534.6" y2="601.5" stroke="#b0b0b0" stroke-width="1.1"/>
<line x1="184.5" y1="589.5" x2="186.5" y2="589.5" stroke="#555" stroke-width="0.8"/>
<text x="183.7" y="592.1" class="tk" text-anchor="end">0.0</text>
<line x1="184.5" y1="524.8" x2="186.5" y2="524.8" stroke="#555" stroke-width="0.8"/>
<text x="183.7" y="527.4" class="tk" text-anchor="end">0.5</text>
<line x1="184.5" y1="460.1" x2="186.5" y2="460.1" stroke="#555" stroke-width="0.8"/>
<text x="183.7" y="462.7" class="tk" text-anchor="end">1.0</text>
<line x1="184.5" y1="395.4" x2="186.5" y2="395.4" stroke="#555" stroke-width="0.8"/>
<text x="183.7" y="398.0" class="tk" text-anchor="end">1.5</text>
<line x1="202.00" y1="601.5" x2="202.00" y2="603.5" stroke="#555" stroke-width="0.8"/>
<text x="202.00" y="610.2" class="tk" text-anchor="middle">0.0</text>
<line x1="233.67" y1="601.5" x2="233.67" y2="603.5" stroke="#555" stroke-width="0.8"/>
<text x="233.67" y="610.2" class="tk" text-anchor="middle">0.1</text>
<line x1="265.34" y1="601.5" x2="265.34" y2="603.5" stroke="#555" stroke-width="0.8"/>
<text x="265.34" y="610.2" class="tk" text-anchor="middle">0.2</text>
<line x1="297.01" y1="601.5" x2="297.01" y2="603.5" stroke="#555" stroke-width="0.8"/>
<text x="297.01" y="610.2" class="tk" text-anchor="middle">0.3</text>
<line x1="328.68" y1="601.5" x2="328.68" y2="603.5" stroke="#555" stroke-width="0.8"/>
<text x="328.68" y="610.2" class="tk" text-anchor="middle">0.4</text>
<line x1="360.35" y1="601.5" x2="360.35" y2="603.5" stroke="#555" stroke-width="0.8"/>
<text x="360.35" y="610.2" class="tk" text-anchor="middle">0.5</text>
<line x1="392.02" y1="601.5" x2="392.02" y2="603.5" stroke="#555" stroke-width="0.8"/>
<text x="392.02" y="610.2" class="tk" text-anchor="middle">0.6</text>
<line x1="423.69" y1="601.5" x2="423.69" y2="603.5" stroke="#555" stroke-width="0.8"/>
<text x="423.69" y="610.2" class="tk" text-anchor="middle">0.7</text>
<line x1="455.36" y1="601.5" x2="455.36" y2="603.5" stroke="#555" stroke-width="0.8"/>
<text x="455.36" y="610.2" class="tk" text-anchor="middle">0.8</text>
<line x1="487.03" y1="601.5" x2="487.03" y2="603.5" stroke="#555" stroke-width="0.8"/>
<text x="487.03" y="610.2" class="tk" text-anchor="middle">0.9</text>
<line x1="518.70" y1="601.5" x2="518.70" y2="603.5" stroke="#555" stroke-width="0.8"/>
<text x="518.70" y="610.2" class="tk" text-anchor="middle">1.0</text>
<text x="360.2" y="617.9" class="ti" text-anchor="middle">Difference in allele frequency between maximum and minimum climate value and soil</text>
<text transform="translate(171.0,468) rotate(-90)" class="ti" text-anchor="middle">Density</text>
<path d="M202.06,548.47 L202.90,547.60 L203.74,546.74 L204.57,545.87 L205.41,545.00 L206.24,544.13 L207.08,543.26 L207.91,542.39 L208.75,541.53 L209.58,540.66 L210.42,539.79 L211.25,538.92 L212.09,538.05 L212.92,537.18 L213.76,536.31 L214.59,535.44 L215.43,534.58 L216.27,533.71 L217.11,532.84 L217.95,531.98 L218.79,531.12 L219.63,530.25 L220.47,529.39 L221.32,528.53 L222.16,527.67 L223.01,526.82 L223.86,525.96 L224.71,525.11 L225.56,524.26 L226.42,523.41 L227.28,522.56 L228.13,521.72 L229.00,520.87 L229.86,520.03 L230.73,519.19 L231.60,518.36 L232.47,517.53 L233.34,516.70 L234.22,515.87 L235.10,515.05 L235.98,514.23 L236.87,513.41 L237.76,512.60 L238.66,511.79 L239.55,510.98 L240.45,510.18 L241.36,509.38 L242.27,508.58 L243.18,507.79 L244.10,507.00 L245.01,506.21 L245.93,505.43 L246.86,504.65 L247.78,503.87 L248.70,503.09 L249.63,502.31 L250.55,501.53 L251.47,500.75 L252.39,499.97 L253.31,499.19 L254.23,498.41 L255.14,497.62 L256.06,496.83 L256.96,496.04 L257.87,495.24 L258.77,494.44 L259.66,493.64 L260.55,492.83 L261.43,492.02 L262.30,491.20 L263.17,490.37 L264.04,489.54 L264.89,488.70 L265.74,487.86 L266.59,487.01 L267.43,486.16 L268.27,485.30 L269.11,484.45 L269.94,483.58 L270.77,482.72 L271.60,481.85 L272.43,480.98 L273.25,480.11 L274.08,479.24 L274.90,478.36 L275.73,477.48 L276.55,476.60 L277.37,475.72 L278.19,474.84 L279.01,473.96 L279.83,473.07 L280.65,472.19 L281.47,471.30 L282.28,470.41 L283.10,469.52 L283.92,468.63 L284.73,467.74 L285.54,466.84 L286.36,465.95 L287.17,465.05 L287.98,464.16 L288.79,463.26 L289.60,462.36 L290.41,461.46 L291.22,460.56 L292.03,459.66 L292.84,458.76 L293.64,457.86 L294.45,456.96 L295.25,456.06 L296.06,455.16 L296.86,454.25 L297.67,453.35 L298.47,452.45 L299.27,451.55 L300.07,450.64 L300.87,449.74 L301.67,448.84 L302.47,447.94 L303.27,447.03 L304.07,446.13 L304.87,445.23 L305.67,444.33 L306.46,443.43 L307.26,442.53 L308.06,441.62 L308.85,440.73 L309.65,439.83 L310.45,438.93 L311.25,438.03 L312.04,437.13 L312.84,436.23 L313.64,435.34 L314.44,434.44 L315.24,433.55 L316.04,432.65 L316.84,431.76 L317.64,430.87 L318.45,429.98 L319.25,429.09 L320.06,428.20 L320.87,427.31 L321.68,426.43 L322.49,425.54 L323.30,424.66 L324.12,423.77 L324.93,422.89 L325.75,422.01 L326.57,421.13 L327.39,420.25 L328.22,419.38 L329.05,418.50 L329.88,417.63 L330.71,416.76 L331.54,415.89 L332.38,415.02 L333.22,414.15 L334.07,413.28 L334.92,412.42 L335.77,411.56 L336.62,410.70 L337.48,409.84 L338.34,408.98 L339.20,408.13 L340.07,407.28 L340.94,406.43 L341.81,405.58 L342.69,404.73 L343.58,403.89 L344.46,403.05 L345.36,402.21 L346.25,401.37 L347.16,400.54 L348.07,399.73 L349.00,398.93 L349.93,398.15 L350.89,397.40 L351.86,396.67 L352.85,395.98 L353.87,395.32 L354.90,394.71 L355.96,394.13 L357.05,393.60 L358.15,393.13 L359.27,392.70 L360.40,392.33 L361.54,392.01 L362.69,391.75 L363.85,391.56 L365.01,391.42 L366.17,391.36 L367.33,391.36 L368.48,391.43 L369.63,391.56 L370.77,391.76 L371.91,392.01 L373.04,392.31 L374.16,392.67 L375.27,393.08 L376.38,393.53 L377.48,394.03 L378.56,394.57 L379.64,395.14 L380.70,395.75 L381.76,396.40 L382.79,397.07 L383.82,397.77 L384.83,398.49 L385.82,399.24 L386.80,400.00 L387.77,400.78 L388.71,401.57 L389.64,402.37 L390.55,403.19 L391.45,404.02 L392.33,404.86 L393.20,405.71 L394.05,406.57 L394.89,407.44 L395.72,408.33 L396.53,409.22 L397.33,410.12 L398.11,411.03 L398.89,411.95 L399.65,412.88 L400.41,413.82 L401.15,414.76 L401.88,415.72 L402.60,416.67 L403.32,417.64 L404.02,418.61 L404.72,419.59 L405.41,420.57 L406.09,421.56 L406.76,422.56 L407.43,423.56 L408.09,424.56 L408.75,425.56 L409.40,426.57 L410.04,427.59 L410.68,428.60 L411.32,429.62 L411.96,430.64 L412.59,431.66 L413.22,432.69 L413.84,433.71 L414.47,434.74 L415.09,435.76 L415.71,436.79 L416.33,437.82 L416.95,438.85 L417.57,439.87 L418.19,440.90 L418.80,441.93 L419.42,442.96 L420.04,443.99 L420.65,445.03 L421.27,446.06 L421.88,447.09 L422.50,448.12 L423.12,449.15 L423.74,450.18 L424.36,451.21 L424.98,452.24 L425.60,453.27 L426.23,454.30 L426.85,455.33 L427.48,456.36 L428.11,457.39 L428.75,458.42 L429.38,459.45 L430.02,460.47 L430.66,461.50 L431.30,462.52 L431.95,463.54 L432.60,464.56 L433.25,465.58 L433.90,466.60 L434.56,467.61 L435.22,468.63 L435.89,469.64 L436.55,470.65 L437.22,471.65 L437.90,472.66 L438.58,473.66 L439.26,474.66 L439.94,475.66 L440.63,476.65 L441.32,477.64 L442.02,478.63 L442.72,479.61 L443.43,480.59 L444.14,481.57 L444.85,482.54 L445.57,483.51 L446.30,484.48 L447.02,485.44 L447.76,486.40 L448.49,487.35 L449.24,488.30 L449.99,489.24 L450.74,490.18 L451.50,491.12 L452.26,492.05 L453.03,492.97 L453.81,493.89 L454.59,494.81 L455.37,495.72 L456.17,496.62 L456.96,497.52 L457.77,498.41 L458.58,499.30 L459.39,500.18 L460.22,501.06 L461.05,501.92 L461.88,502.79 L462.72,503.64 L463.57,504.49 L464.43,505.33 L465.29,506.17 L466.16,506.99 L467.04,507.81 L467.93,508.62 L468.83,509.42 L469.73,510.21 L470.65,510.98 L471.57,511.75 L472.50,512.51 L473.45,513.25 L474.40,513.98 L475.36,514.70 L476.34,515.41 L477.32,516.11 L478.31,516.79 L479.31,517.47 L480.32,518.13 L481.33,518.79 L482.35,519.44 L483.38,520.09 L484.41,520.73 L485.44,521.36 L486.48,521.99 L487.51,522.62 L488.55,523.24 L489.59,523.87 L490.63,524.49 L491.67,525.12 L492.71,525.74 L493.74,526.37 L494.77,527.00 L495.80,527.63 L496.83,528.27 L497.85,528.90 L498.87,529.54 L499.89,530.18 L500.91,530.82 L501.93,531.46 L502.95,532.10 L503.97,532.74 L504.99,533.38 L506.01,534.01 L507.03,534.65 L508.06,535.27 L509.08,535.90 L510.12,536.52 L511.15,537.13 L512.19,537.74 L513.23,538.34 L514.28,538.94 L515.34,539.53 L516.40,540.11 L517.46,540.68 L518.54,541.24" stroke="#ff4040"/>
<path d="M202.23,485.45 L202.60,484.29 L202.98,483.12 L203.37,481.96 L203.75,480.81 L204.15,479.65 L204.55,478.51 L204.95,477.36 L205.36,476.22 L205.78,475.09 L206.19,473.95 L206.62,472.82 L207.04,471.70 L207.47,470.57 L207.91,469.45 L208.34,468.33 L208.78,467.21 L209.23,466.10 L209.67,464.98 L210.12,463.87 L210.57,462.76 L211.02,461.66 L211.48,460.55 L211.94,459.44 L212.40,458.34 L212.86,457.24 L213.32,456.13 L213.79,455.03 L214.25,453.93 L214.72,452.83 L215.18,451.73 L215.65,450.63 L216.12,449.53 L216.59,448.42 L217.06,447.32 L217.52,446.22 L217.99,445.12 L218.46,444.01 L218.93,442.90 L219.39,441.80 L219.86,440.69 L220.32,439.58 L220.78,438.47 L221.24,437.35 L221.70,436.24 L222.16,435.12 L222.62,434.00 L223.07,432.88 L223.53,431.75 L223.98,430.63 L224.43,429.50 L224.89,428.38 L225.34,427.25 L225.80,426.13 L226.26,425.00 L226.72,423.88 L227.18,422.75 L227.65,421.63 L228.12,420.51 L228.60,419.40 L229.08,418.28 L229.56,417.17 L230.05,416.06 L230.55,414.96 L231.05,413.85 L231.56,412.76 L232.08,411.67 L232.60,410.58 L233.14,409.50 L233.68,408.42 L234.23,407.35 L234.79,406.28 L235.36,405.23 L235.95,404.18 L236.54,403.13 L237.14,402.10 L237.76,401.07 L238.39,400.05 L239.03,399.04 L239.68,398.04 L240.35,397.04 L241.03,396.06 L241.73,395.09 L242.44,394.12 L243.17,393.17 L243.92,392.23 L244.68,391.30 L245.45,390.38 L246.25,389.47 L247.06,388.58 L247.89,387.70 L248.74,386.83 L249.61,385.98 L250.50,385.14 L251.41,384.33 L252.34,383.55 L253.29,382.82 L254.28,382.13 L255.28,381.50 L256.31,380.93 L257.38,380.43 L258.47,380.01 L259.59,379.68 L260.73,379.43 L261.90,379.26 L263.08,379.18 L264.26,379.17 L265.44,379.24 L266.62,379.39 L267.78,379.60 L268.93,379.89 L270.05,380.24 L271.14,380.66 L272.20,381.13 L273.24,381.66 L274.25,382.25 L275.24,382.88 L276.21,383.55 L277.16,384.27 L278.10,385.02 L279.02,385.81 L279.92,386.62 L280.81,387.46 L281.69,388.32 L282.56,389.20 L283.42,390.09 L284.28,390.99 L285.13,391.89 L285.97,392.80 L286.81,393.70 L287.66,394.61 L288.49,395.51 L289.33,396.41 L290.17,397.31 L291.00,398.21 L291.83,399.11 L292.66,400.01 L293.48,400.90 L294.31,401.80 L295.13,402.69 L295.95,403.59 L296.77,404.48 L297.59,405.37 L298.41,406.26 L299.22,407.15 L300.04,408.04 L300.85,408.93 L301.66,409.82 L302.47,410.70 L303.28,411.59 L304.09,412.47 L304.90,413.36 L305.71,414.24 L306.52,415.12 L307.33,416.01 L308.13,416.89 L308.94,417.77 L309.75,418.65 L310.55,419.53 L311.36,420.40 L312.17,421.28 L312.97,422.16 L313.78,423.04 L314.59,423.91 L315.40,424.79 L316.20,425.66 L317.01,426.54 L317.82,427.41 L318.63,428.28 L319.44,429.15 L320.26,430.03 L321.07,430.90 L321.88,431.77 L322.70,432.64 L323.52,433.51 L324.34,434.38 L325.15,435.25 L325.98,436.12 L326.80,436.98 L327.62,437.85 L328.45,438.72 L329.28,439.59 L330.11,440.45 L330.94,441.32 L331.77,442.19 L332.60,443.05 L333.44,443.92 L334.27,444.79 L335.11,445.65 L335.94,446.52 L336.78,447.38 L337.62,448.25 L338.46,449.11 L339.30,449.98 L340.14,450.85 L340.98,451.71 L341.83,452.58 L342.67,453.45 L343.51,454.31 L344.35,455.18 L345.19,456.05 L346.04,456.92 L346.88,457.78 L347.72,458.65 L348.56,459.52 L349.40,460.39 L350.24,461.26 L351.08,462.13 L351.92,463.00 L352.76,463.88 L353.60,464.75 L354.44,465.62 L355.27,466.50 L356.11,467.37 L356.94,468.25 L357.78,469.12 L358.61,470.00 L359.44,470.88 L360.27,471.76 L361.09,472.64 L361.92,473.52 L362.74,474.41 L363.56,475.29 L364.39,476.17 L365.20,477.06 L366.02,477.95 L366.83,478.84 L367.65,479.73 L368.46,480.62 L369.26,481.51 L370.07,482.40 L370.87,483.30 L371.67,484.20 L372.47,485.09 L373.26,485.99 L374.06,486.90 L374.84,487.80 L375.63,488.70 L376.41,489.61 L377.19,490.52 L377.97,491.42 L378.75,492.33 L379.52,493.25 L380.30,494.16 L381.07,495.07 L381.84,495.98 L382.61,496.90 L383.37,497.81 L384.14,498.73 L384.91,499.64 L385.68,500.56 L386.44,501.47 L387.21,502.39 L387.98,503.30 L388.75,504.22 L389.52,505.13 L390.29,506.04 L391.06,506.95 L391.84,507.87 L392.61,508.78 L393.39,509.69 L394.17,510.59 L394.95,511.50 L395.74,512.41 L396.53,513.31 L397.32,514.21 L398.12,515.11 L398.91,516.01 L399.72,516.91 L400.53,517.80 L401.34,518.69 L402.15,519.58 L402.97,520.47 L403.80,521.35 L404.63,522.24 L405.47,523.12 L406.31,523.99 L407.16,524.86 L408.01,525.73 L408.87,526.60 L409.74,527.46 L410.61,528.32 L411.49,529.18 L412.38,530.02 L413.28,530.87 L414.18,531.70 L415.09,532.52 L416.01,533.34 L416.94,534.14 L417.87,534.92 L418.82,535.70 L419.77,536.45 L420.74,537.19 L421.71,537.91 L422.69,538.61 L423.68,539.29 L424.68,539.94 L425.69,540.58 L426.72,541.18 L427.75,541.76 L428.79,542.31 L429.85,542.84 L430.91,543.33 L431.99,543.79 L433.08,544.22 L434.18,544.61 L435.30,544.96 L436.42,545.29 L437.56,545.58 L438.70,545.83 L439.86,546.06 L441.02,546.26 L442.20,546.42 L443.38,546.57 L444.56,546.68 L445.76,546.78 L446.96,546.84 L448.16,546.89 L449.37,546.92 L450.59,546.93 L451.80,546.92 L453.02,546.90 L454.24,546.86 L455.46,546.80 L456.68,546.74 L457.90,546.66 L459.12,546.58 L460.34,546.48 L461.56,546.38 L462.78,546.27 L463.99,546.16 L465.20,546.04 L466.41,545.92 L467.62,545.79 L468.83,545.66 L470.04,545.54 L471.25,545.41 L472.45,545.28 L473.65,545.15 L474.85,545.02 L476.05,544.90 L477.25,544.78 L478.45,544.67 L479.65,544.56 L480.84,544.46 L482.04,544.36 L483.23,544.28 L484.42,544.20 L485.61,544.13 L486.80,544.07 L487.99,544.03 L489.18,544.00 L490.36,543.98 L491.55,543.97 L492.73,543.98 L493.92,544.01 L495.10,544.05 L496.28,544.11 L497.46,544.19 L498.64,544.29 L499.82,544.41 L501.00,544.55 L502.17,544.71 L503.35,544.90 L504.52,545.11 L505.70,545.34 L506.87,545.60 L508.05,545.89 L509.22,546.20 L510.39,546.54 L511.56,546.91 L512.73,547.31 L513.90,547.75 L515.07,548.21 L516.24,548.70 L517.40,549.23 L518.57,549.79" stroke="#3a3a3a"/>
<path d="M202.07,546.16 L203.13,545.60 L204.20,545.05 L205.27,544.50 L206.34,543.95 L207.42,543.41 L208.50,542.88 L209.58,542.34 L210.66,541.81 L211.74,541.29 L212.82,540.77 L213.91,540.25 L215.00,539.74 L216.09,539.23 L217.18,538.73 L218.28,538.23 L219.37,537.73 L220.47,537.24 L221.57,536.75 L222.67,536.26 L223.77,535.78 L224.87,535.30 L225.98,534.82 L227.09,534.35 L228.19,533.88 L229.30,533.41 L230.42,532.95 L231.53,532.49 L232.64,532.03 L233.76,531.57 L234.87,531.12 L235.99,530.67 L237.11,530.23 L238.23,529.78 L239.35,529.34 L240.47,528.90 L241.59,528.46 L242.72,528.03 L243.84,527.60 L244.97,527.17 L246.10,526.74 L247.22,526.31 L248.35,525.89 L249.48,525.47 L250.61,525.05 L251.74,524.63 L252.88,524.22 L254.01,523.80 L255.14,523.39 L256.28,522.99 L257.42,522.59 L258.56,522.19 L259.70,521.79 L260.84,521.40 L261.98,521.02 L263.13,520.64 L264.28,520.26 L265.43,519.90 L266.58,519.53 L267.73,519.17 L268.89,518.82 L270.05,518.48 L271.21,518.14 L272.38,517.81 L273.55,517.49 L274.72,517.17 L275.89,516.87 L277.06,516.57 L278.24,516.28 L279.42,516.00 L280.60,515.73 L281.78,515.47 L282.96,515.23 L284.15,514.99 L285.33,514.76 L286.52,514.55 L287.71,514.34 L288.90,514.15 L290.09,513.97 L291.28,513.81 L292.47,513.65 L293.66,513.50 L294.85,513.36 L296.05,513.23 L297.24,513.12 L298.44,513.01 L299.63,512.91 L300.83,512.81 L302.03,512.73 L303.23,512.65 L304.43,512.59 L305.62,512.52 L306.82,512.47 L308.03,512.42 L309.23,512.38 L310.43,512.34 L311.63,512.31 L312.83,512.29 L314.04,512.27 L315.24,512.25 L316.45,512.24 L317.65,512.23 L318.86,512.23 L320.06,512.23 L321.27,512.23 L322.47,512.23 L323.68,512.24 L324.89,512.25 L326.09,512.26 L327.30,512.27 L328.51,512.28 L329.72,512.30 L330.93,512.31 L332.13,512.32 L333.34,512.34 L334.55,512.35 L335.76,512.36 L336.97,512.37 L338.18,512.38 L339.39,512.39 L340.59,512.39 L341.80,512.39 L343.01,512.39 L344.22,512.39 L345.43,512.38 L346.64,512.37 L347.85,512.35 L349.05,512.33 L350.26,512.31 L351.47,512.28 L352.68,512.24 L353.89,512.20 L355.09,512.15 L356.30,512.10 L357.51,512.04 L358.71,511.97 L359.92,511.89 L361.13,511.81 L362.33,511.72 L363.53,511.62 L364.74,511.51 L365.94,511.40 L367.14,511.27 L368.34,511.14 L369.54,511.00 L370.74,510.85 L371.94,510.69 L373.13,510.52 L374.32,510.34 L375.51,510.16 L376.70,509.96 L377.89,509.75 L379.07,509.54 L380.25,509.31 L381.43,509.08 L382.60,508.83 L383.78,508.57 L384.95,508.30 L386.11,508.03 L387.28,507.74 L388.44,507.44 L389.59,507.12 L390.75,506.80 L391.90,506.47 L393.04,506.12 L394.18,505.76 L395.32,505.39 L396.45,505.01 L397.58,504.61 L398.70,504.21 L399.82,503.79 L400.94,503.35 L402.04,502.91 L403.15,502.45 L404.25,501.98 L405.34,501.49 L406.43,501.00 L407.51,500.48 L408.59,499.96 L409.66,499.42 L410.73,498.87 L411.79,498.31 L412.85,497.74 L413.90,497.16 L414.95,496.57 L416.00,495.97 L417.04,495.36 L418.08,494.74 L419.11,494.11 L420.14,493.47 L421.16,492.83 L422.18,492.17 L423.20,491.51 L424.22,490.85 L425.23,490.18 L426.24,489.50 L427.25,488.81 L428.25,488.12 L429.25,487.43 L430.25,486.73 L431.24,486.03 L432.24,485.33 L433.23,484.62 L434.22,483.91 L435.21,483.20 L436.19,482.48 L437.18,481.77 L438.16,481.05 L439.14,480.33 L440.13,479.61 L441.11,478.90 L442.09,478.18 L443.07,477.46 L444.05,476.74 L445.03,476.03 L446.01,475.32 L446.99,474.60 L447.97,473.89 L448.95,473.19 L449.93,472.48 L450.92,471.78 L451.91,471.08 L452.89,470.39 L453.88,469.70 L454.88,469.01 L455.87,468.33 L456.87,467.66 L457.87,466.99 L458.87,466.33 L459.87,465.67 L460.88,465.02 L461.90,464.37 L462.91,463.73 L463.93,463.10 L464.96,462.48 L465.99,461.87 L467.02,461.26 L468.06,460.66 L469.10,460.08 L470.15,459.50 L471.20,458.93 L472.26,458.37 L473.33,457.82 L474.40,457.29 L475.47,456.76 L476.56,456.24 L477.65,455.74 L478.74,455.25 L479.85,454.77 L480.96,454.30 L482.08,453.85 L483.20,453.41 L484.33,452.99 L485.47,452.59 L486.61,452.20 L487.76,451.83 L488.92,451.49 L490.08,451.16 L491.24,450.86 L492.41,450.59 L493.58,450.34 L494.75,450.11 L495.93,449.92 L497.11,449.75 L498.29,449.61 L499.48,449.51 L500.67,449.44 L501.86,449.40 L503.05,449.39 L504.24,449.43 L505.43,449.50 L506.62,449.61 L507.82,449.76 L509.01,449.95 L510.20,450.18 L511.39,450.46 L512.58,450.78 L513.77,451.15 L514.95,451.57 L516.13,452.03 L517.32,452.54 L518.49,453.11" stroke="#4fd04f"/>
<path d="M202.20,549.51 L202.77,548.44 L203.32,547.36 L203.86,546.28 L204.38,545.19 L204.89,544.10 L205.38,543.01 L205.86,541.91 L206.34,540.80 L206.80,539.69 L207.25,538.58 L207.69,537.47 L208.13,536.35 L208.55,535.23 L208.98,534.10 L209.39,532.98 L209.80,531.85 L210.21,530.72 L210.62,529.59 L211.02,528.46 L211.42,527.33 L211.82,526.20 L212.22,525.07 L212.63,523.94 L213.03,522.81 L213.44,521.68 L213.85,520.55 L214.26,519.42 L214.69,518.30 L215.11,517.17 L215.55,516.05 L215.99,514.93 L216.43,513.81 L216.88,512.70 L217.34,511.58 L217.79,510.47 L218.26,509.36 L218.72,508.24 L219.19,507.13 L219.66,506.02 L220.14,504.91 L220.61,503.81 L221.09,502.70 L221.56,501.59 L222.04,500.48 L222.51,499.38 L222.99,498.27 L223.46,497.16 L223.94,496.05 L224.41,494.94 L224.87,493.83 L225.34,492.72 L225.80,491.61 L226.26,490.50 L226.71,489.38 L227.16,488.27 L227.60,487.15 L228.04,486.03 L228.48,484.91 L228.90,483.79 L229.33,482.67 L229.75,481.55 L230.17,480.42 L230.59,479.30 L231.00,478.17 L231.42,477.04 L231.83,475.92 L232.24,474.79 L232.65,473.66 L233.06,472.54 L233.47,471.41 L233.89,470.28 L234.30,469.16 L234.71,468.03 L235.13,466.91 L235.55,465.78 L235.98,464.66 L236.40,463.54 L236.84,462.42 L237.27,461.30 L237.71,460.18 L238.16,459.06 L238.61,457.95 L239.07,456.84 L239.53,455.72 L240.01,454.62 L240.49,453.51 L240.97,452.40 L241.47,451.30 L241.97,450.20 L242.49,449.11 L243.01,448.01 L243.54,446.92 L244.09,445.83 L244.64,444.75 L245.21,443.67 L245.79,442.59 L246.38,441.52 L246.98,440.46 L247.60,439.41 L248.23,438.37 L248.88,437.34 L249.54,436.33 L250.22,435.33 L250.92,434.35 L251.63,433.39 L252.36,432.44 L253.11,431.52 L253.88,430.62 L254.67,429.74 L255.48,428.89 L256.31,428.06 L257.16,427.27 L258.03,426.50 L258.92,425.76 L259.84,425.06 L260.78,424.39 L261.75,423.75 L262.74,423.15 L263.76,422.59 L264.80,422.07 L265.87,421.59 L266.96,421.15 L268.07,420.74 L269.21,420.36 L270.36,420.01 L271.53,419.68 L272.71,419.37 L273.91,419.09 L275.11,418.82 L276.33,418.56 L277.55,418.31 L278.77,418.07 L279.99,417.83 L281.22,417.59 L282.44,417.35 L283.66,417.10 L284.88,416.84 L286.08,416.57 L287.28,416.29 L288.47,415.99 L289.64,415.66 L290.79,415.31 L291.93,414.94 L293.04,414.53 L294.14,414.09 L295.21,413.62 L296.26,413.10 L297.27,412.55 L298.26,411.94 L299.22,411.30 L300.16,410.62 L301.07,409.90 L301.95,409.14 L302.81,408.35 L303.65,407.52 L304.46,406.67 L305.25,405.78 L306.03,404.87 L306.78,403.93 L307.51,402.97 L308.23,401.99 L308.93,400.99 L309.61,399.96 L310.28,398.93 L310.94,397.88 L311.58,396.81 L312.21,395.74 L312.82,394.65 L313.43,393.56 L314.03,392.47 L314.61,391.36 L315.19,390.26 L315.77,389.16 L316.34,388.06 L316.90,386.97 L317.46,385.87 L318.01,384.79 L318.56,383.72 L319.11,382.65 L319.66,381.60 L320.21,380.56 L320.76,379.52 L321.32,378.49 L321.87,377.47 L322.43,376.46 L323.00,375.45 L323.57,374.45 L324.15,373.45 L324.73,372.45 L325.33,371.46 L325.93,370.46 L326.54,369.47 L327.17,368.48 L327.80,367.49 L328.45,366.50 L329.12,365.51 L329.80,364.51 L330.49,363.51 L331.20,362.51 L331.93,361.50 L332.67,360.49 L333.44,359.47 L334.23,358.45 L335.03,357.43 L335.86,356.42 L336.70,355.44 L337.57,354.48 L338.46,353.55 L339.37,352.67 L340.30,351.84 L341.25,351.07 L342.22,350.36 L343.22,349.73 L344.24,349.18 L345.27,348.72 L346.33,348.35 L347.41,348.07 L348.50,347.89 L349.59,347.81 L350.68,347.82 L351.78,347.93 L352.86,348.12 L353.93,348.42 L354.98,348.81 L356.01,349.29 L357.01,349.86 L357.98,350.52 L358.92,351.25 L359.83,352.05 L360.71,352.91 L361.55,353.81 L362.35,354.74 L363.12,355.71 L363.86,356.69 L364.56,357.70 L365.23,358.72 L365.87,359.76 L366.48,360.82 L367.08,361.89 L367.65,362.97 L368.20,364.06 L368.74,365.16 L369.26,366.27 L369.77,367.37 L370.28,368.49 L370.78,369.60 L371.27,370.72 L371.75,371.83 L372.23,372.95 L372.70,374.07 L373.17,375.19 L373.63,376.31 L374.09,377.43 L374.54,378.55 L374.99,379.67 L375.43,380.79 L375.86,381.92 L376.29,383.04 L376.72,384.17 L377.14,385.30 L377.56,386.42 L377.97,387.55 L378.38,388.68 L378.79,389.81 L379.19,390.94 L379.59,392.08 L379.98,393.21 L380.37,394.34 L380.76,395.48 L381.14,396.61 L381.52,397.75 L381.90,398.89 L382.27,400.02 L382.64,401.16 L383.01,402.30 L383.38,403.44 L383.74,404.58 L384.10,405.72 L384.46,406.87 L384.82,408.01 L385.17,409.15 L385.52,410.30 L385.87,411.44 L386.22,412.59 L386.57,413.74 L386.92,414.88 L387.27,416.03 L387.61,417.18 L387.95,418.33 L388.30,419.48 L388.64,420.63 L388.98,421.78 L389.32,422.93 L389.66,424.08 L390.00,425.24 L390.34,426.39 L390.68,427.54 L391.02,428.70 L391.36,429.85 L391.70,431.01 L392.04,432.16 L392.37,433.32 L392.71,434.48 L393.05,435.63 L393.39,436.79 L393.72,437.95 L394.06,439.10 L394.40,440.26 L394.74,441.42 L395.08,442.58 L395.42,443.73 L395.75,444.89 L396.09,446.05 L396.43,447.21 L396.77,448.36 L397.11,449.52 L397.46,450.68 L397.80,451.83 L398.14,452.99 L398.48,454.15 L398.83,455.30 L399.17,456.46 L399.52,457.62 L399.86,458.77 L400.21,459.93 L400.56,461.08 L400.91,462.24 L401.26,463.39 L401.61,464.54 L401.96,465.70 L402.31,466.85 L402.67,468.00 L403.02,469.15 L403.38,470.30 L403.74,471.45 L404.10,472.60 L404.46,473.75 L404.82,474.90 L405.19,476.05 L405.55,477.19 L405.92,478.34 L406.29,479.48 L406.66,480.62 L407.03,481.77 L407.41,482.91 L407.78,484.05 L408.16,485.19 L408.54,486.33 L408.92,487.46 L409.31,488.60 L409.69,489.74 L410.08,490.87 L410.47,492.00 L410.86,493.13 L411.26,494.26 L411.65,495.39 L412.05,496.52 L412.46,497.65 L412.86,498.77 L413.27,499.90 L413.68,501.02 L414.09,502.14 L414.51,503.26 L414.93,504.38 L415.35,505.50 L415.78,506.62 L416.20,507.74 L416.64,508.85 L417.07,509.96 L417.51,511.08 L417.96,512.19 L418.40,513.30 L418.86,514.41 L419.31,515.52 L419.77,516.63 L420.23,517.74 L420.70,518.84 L421.18,519.95 L421.65,521.05 L422.13,522.16 L422.62,523.26 L423.11,524.36 L423.61,525.46 L424.11,526.56 L424.62,527.66 L425.13,528.76 L425.65,529.86 L426.17,530.96 L426.70,532.05 L427.23,533.14 L427.78,534.23 L428.33,535.32 L428.88,536.40 L429.45,537.48 L430.02,538.55 L430.60,539.62 L431.19,540.68 L431.79,541.73 L432.40,542.78 L433.02,543.82 L433.65,544.86 L434.29,545.89 L434.94,546.90 L435.60,547.91 L436.27,548.92 L436.96,549.91 L437.65,550.89 L438.36,551.86 L439.09,552.82 L439.82,553.77 L440.57,554.70 L441.33,555.63 L442.11,556.54 L442.90,557.44 L443.71,558.32 L444.53,559.19 L445.36,560.05 L446.21,560.89 L447.08,561.72 L447.97,562.53 L448.87,563.32 L449.79,564.10 L450.72,564.86 L451.68,565.59 L452.65,566.31 L453.63,567.00 L454.63,567.66 L455.65,568.28 L456.68,568.87 L457.73,569.43 L458.79,569.94 L459.87,570.40 L460.96,570.82 L462.06,571.19 L463.18,571.50 L464.31,571.75 L465.45,571.95 L466.60,572.08 L467.77,572.15 L468.95,572.15 L470.13,572.08 L471.32,571.96 L472.52,571.77 L473.72,571.54 L474.92,571.25 L476.11,570.92 L477.31,570.55 L478.50,570.14 L479.68,569.70 L480.84,569.23 L482.00,568.73 L483.14,568.21 L484.27,567.68 L485.38,567.13 L486.48,566.56 L487.56,565.98 L488.63,565.40 L489.69,564.81 L490.75,564.21 L491.79,563.62 L492.83,563.02 L493.87,562.42 L494.90,561.83 L495.93,561.25 L496.96,560.67 L498.00,560.11 L499.03,559.55 L500.07,559.02 L501.12,558.50 L502.18,558.00 L503.24,557.52 L504.32,557.06 L505.40,556.64 L506.50,556.24 L507.62,555.87 L508.75,555.53 L509.90,555.23 L511.06,554.96 L512.25,554.73 L513.46,554.55 L514.70,554.41 L515.96,554.31 L517.24,554.26 L518.56,554.27" stroke="#b040c4"/>
<path d="M201.68,437.62 L202.78,436.80 L203.89,436.04 L205.00,435.35 L206.13,434.72 L207.26,434.15 L208.40,433.63 L209.55,433.18 L210.70,432.78 L211.86,432.44 L213.02,432.15 L214.18,431.91 L215.35,431.73 L216.52,431.59 L217.69,431.50 L218.87,431.46 L220.04,431.46 L221.21,431.51 L222.38,431.60 L223.55,431.73 L224.72,431.90 L225.88,432.10 L227.04,432.35 L228.20,432.62 L229.35,432.94 L230.49,433.28 L231.63,433.66 L232.76,434.06 L233.88,434.49 L235.00,434.95 L236.10,435.44 L237.20,435.95 L238.28,436.48 L239.35,437.03 L240.41,437.60 L241.46,438.19 L242.49,438.80 L243.52,439.43 L244.53,440.07 L245.53,440.72 L246.52,441.40 L247.50,442.09 L248.46,442.79 L249.42,443.50 L250.37,444.23 L251.31,444.97 L252.25,445.73 L253.17,446.49 L254.09,447.27 L255.00,448.06 L255.90,448.86 L256.79,449.66 L257.68,450.48 L258.57,451.30 L259.45,452.14 L260.32,452.97 L261.19,453.82 L262.05,454.67 L262.91,455.53 L263.77,456.39 L264.63,457.26 L265.48,458.13 L266.33,459.01 L267.17,459.88 L268.02,460.76 L268.87,461.64 L269.71,462.53 L270.55,463.41 L271.40,464.29 L272.24,465.18 L273.09,466.06 L273.93,466.94 L274.78,467.82 L275.63,468.70 L276.48,469.57 L277.34,470.45 L278.19,471.32 L279.05,472.18 L279.91,473.05 L280.77,473.90 L281.64,474.76 L282.50,475.61 L283.38,476.45 L284.25,477.29 L285.13,478.13 L286.01,478.96 L286.90,479.78 L287.79,480.60 L288.68,481.41 L289.58,482.21 L290.49,483.00 L291.40,483.79 L292.31,484.57 L293.23,485.34 L294.16,486.10 L295.09,486.86 L296.03,487.60 L296.97,488.33 L297.92,489.06 L298.88,489.77 L299.84,490.47 L300.82,491.16 L301.79,491.84 L302.78,492.51 L303.77,493.17 L304.77,493.81 L305.78,494.44 L306.80,495.06 L307.82,495.67 L308.86,496.26 L309.90,496.84 L310.95,497.40 L312.01,497.95 L313.08,498.49 L314.15,499.01 L315.24,499.51 L316.33,500.01 L317.43,500.49 L318.54,500.95 L319.65,501.40 L320.77,501.84 L321.90,502.27 L323.03,502.68 L324.17,503.08 L325.31,503.46 L326.46,503.83 L327.62,504.19 L328.78,504.54 L329.95,504.87 L331.11,505.19 L332.29,505.50 L333.46,505.79 L334.65,506.07 L335.83,506.34 L337.02,506.60 L338.21,506.84 L339.40,507.08 L340.60,507.30 L341.79,507.50 L342.99,507.70 L344.19,507.88 L345.40,508.05 L346.60,508.21 L347.80,508.36 L349.01,508.50 L350.21,508.62 L351.42,508.73 L352.62,508.84 L353.83,508.93 L355.04,509.01 L356.24,509.09 L357.45,509.16 L358.66,509.22 L359.86,509.27 L361.07,509.31 L362.28,509.36 L363.49,509.39 L364.69,509.42 L365.90,509.45 L367.11,509.47 L368.32,509.49 L369.52,509.51 L370.73,509.52 L371.94,509.53 L373.15,509.55 L374.35,509.56 L375.56,509.57 L376.77,509.59 L377.97,509.60 L379.18,509.62 L380.38,509.64 L381.59,509.66 L382.79,509.69 L384.00,509.72 L385.20,509.76 L386.41,509.80 L387.61,509.85 L388.81,509.90 L390.01,509.96 L391.22,510.03 L392.42,510.11 L393.62,510.20 L394.82,510.29 L396.02,510.40 L397.22,510.51 L398.41,510.64 L399.61,510.77 L400.81,510.91 L402.00,511.06 L403.20,511.22 L404.39,511.39 L405.58,511.57 L406.77,511.75 L407.96,511.94 L409.15,512.14 L410.34,512.35 L411.53,512.57 L412.71,512.79 L413.90,513.03 L415.08,513.26 L416.26,513.51 L417.44,513.76 L418.62,514.02 L419.80,514.29 L420.98,514.56 L422.15,514.84 L423.33,515.13 L424.50,515.42 L425.67,515.72 L426.84,516.02 L428.01,516.33 L429.17,516.65 L430.34,516.97 L431.50,517.29 L432.66,517.62 L433.82,517.96 L434.97,518.30 L436.13,518.64 L437.29,518.99 L438.44,519.34 L439.59,519.70 L440.75,520.06 L441.90,520.42 L443.05,520.78 L444.20,521.15 L445.34,521.52 L446.49,521.89 L447.64,522.26 L448.79,522.64 L449.93,523.01 L451.08,523.39 L452.23,523.77 L453.37,524.14 L454.52,524.52 L455.67,524.90 L456.81,525.27 L457.96,525.65 L459.11,526.02 L460.25,526.40 L461.40,526.77 L462.55,527.15 L463.69,527.52 L464.84,527.89 L465.99,528.27 L467.13,528.64 L468.28,529.02 L469.43,529.40 L470.57,529.78 L471.72,530.16 L472.86,530.54 L474.00,530.93 L475.14,531.32 L476.28,531.71 L477.42,532.10 L478.56,532.50 L479.70,532.91 L480.83,533.31 L481.96,533.72 L483.10,534.13 L484.23,534.55 L485.36,534.97 L486.49,535.39 L487.61,535.82 L488.74,536.26 L489.86,536.69 L490.98,537.13 L492.10,537.58 L493.22,538.03 L494.34,538.48 L495.45,538.94 L496.57,539.40 L497.68,539.87 L498.79,540.34 L499.90,540.82 L501.00,541.30 L502.10,541.79 L503.21,542.28 L504.31,542.78 L505.40,543.28 L506.50,543.79 L507.59,544.30 L508.68,544.82 L509.77,545.34 L510.86,545.87 L511.94,546.41 L513.03,546.95 L514.11,547.50 L515.18,548.05 L516.26,548.61 L517.33,549.18 L518.40,549.75" stroke="#4646ff"/>
<path d="M201.89,467.30 L202.99,466.74 L204.10,466.21 L205.21,465.71 L206.34,465.25 L207.47,464.81 L208.60,464.40 L209.75,464.02 L210.90,463.66 L212.06,463.34 L213.22,463.04 L214.39,462.77 L215.56,462.52 L216.74,462.31 L217.92,462.11 L219.10,461.94 L220.29,461.80 L221.48,461.68 L222.68,461.58 L223.88,461.51 L225.08,461.46 L226.28,461.43 L227.48,461.43 L228.68,461.44 L229.89,461.48 L231.09,461.54 L232.29,461.61 L233.50,461.71 L234.70,461.83 L235.90,461.96 L237.10,462.12 L238.30,462.29 L239.49,462.48 L240.68,462.69 L241.87,462.91 L243.06,463.15 L244.24,463.41 L245.41,463.68 L246.59,463.96 L247.75,464.27 L248.92,464.58 L250.08,464.91 L251.23,465.25 L252.38,465.61 L253.52,465.98 L254.66,466.36 L255.80,466.75 L256.93,467.16 L258.05,467.58 L259.18,468.01 L260.29,468.45 L261.41,468.90 L262.52,469.36 L263.62,469.83 L264.73,470.32 L265.82,470.81 L266.92,471.31 L268.01,471.82 L269.10,472.34 L270.18,472.86 L271.26,473.40 L272.34,473.94 L273.41,474.49 L274.48,475.04 L275.55,475.61 L276.61,476.18 L277.67,476.75 L278.73,477.33 L279.78,477.92 L280.84,478.51 L281.89,479.10 L282.93,479.71 L283.98,480.31 L285.02,480.92 L286.05,481.53 L287.09,482.15 L288.13,482.76 L289.16,483.38 L290.19,484.01 L291.22,484.63 L292.25,485.26 L293.27,485.88 L294.30,486.51 L295.33,487.14 L296.35,487.76 L297.38,488.39 L298.41,489.01 L299.43,489.63 L300.46,490.26 L301.49,490.88 L302.52,491.49 L303.56,492.11 L304.59,492.72 L305.63,493.32 L306.67,493.93 L307.71,494.53 L308.75,495.14 L309.79,495.74 L310.83,496.33 L311.87,496.93 L312.92,497.53 L313.96,498.12 L315.00,498.72 L316.05,499.31 L317.09,499.90 L318.14,500.49 L319.18,501.08 L320.23,501.67 L321.27,502.26 L322.32,502.85 L323.37,503.44 L324.41,504.03 L325.46,504.61 L326.51,505.19 L327.56,505.78 L328.61,506.36 L329.66,506.93 L330.71,507.51 L331.76,508.08 L332.82,508.65 L333.88,509.22 L334.93,509.79 L335.99,510.35 L337.06,510.91 L338.12,511.47 L339.19,512.02 L340.25,512.57 L341.32,513.11 L342.40,513.66 L343.47,514.19 L344.55,514.73 L345.63,515.26 L346.72,515.78 L347.80,516.30 L348.89,516.82 L349.99,517.33 L351.08,517.83 L352.18,518.33 L353.28,518.83 L354.39,519.32 L355.50,519.80 L356.61,520.28 L357.72,520.76 L358.83,521.22 L359.95,521.68 L361.07,522.14 L362.20,522.59 L363.32,523.03 L364.45,523.47 L365.58,523.90 L366.72,524.33 L367.85,524.75 L368.99,525.16 L370.13,525.56 L371.27,525.96 L372.42,526.35 L373.56,526.74 L374.71,527.12 L375.86,527.49 L377.02,527.85 L378.17,528.21 L379.33,528.55 L380.49,528.89 L381.65,529.23 L382.81,529.55 L383.97,529.87 L385.14,530.18 L386.30,530.48 L387.47,530.77 L388.64,531.06 L389.81,531.33 L390.99,531.60 L392.16,531.86 L393.34,532.11 L394.51,532.35 L395.69,532.59 L396.87,532.81 L398.05,533.02 L399.23,533.23 L400.41,533.43 L401.60,533.61 L402.78,533.79 L403.97,533.96 L405.15,534.12 L406.34,534.26 L407.53,534.40 L408.71,534.53 L409.90,534.65 L411.09,534.76 L412.28,534.86 L413.47,534.94 L414.67,535.02 L415.86,535.09 L417.05,535.14 L418.24,535.19 L419.43,535.22 L420.63,535.25 L421.82,535.26 L423.01,535.26 L424.21,535.25 L425.40,535.23 L426.59,535.19 L427.79,535.15 L428.98,535.09 L430.18,535.02 L431.37,534.94 L432.56,534.85 L433.76,534.75 L434.95,534.64 L436.14,534.52 L437.33,534.38 L438.53,534.24 L439.72,534.09 L440.91,533.94 L442.11,533.77 L443.30,533.60 L444.49,533.42 L445.68,533.23 L446.88,533.04 L448.07,532.83 L449.26,532.63 L450.45,532.42 L451.64,532.20 L452.84,531.98 L454.03,531.76 L455.22,531.53 L456.41,531.30 L457.60,531.06 L458.80,530.83 L459.99,530.59 L461.18,530.35 L462.37,530.10 L463.56,529.86 L464.76,529.62 L465.95,529.37 L467.14,529.13 L468.33,528.88 L469.52,528.64 L470.72,528.40 L471.91,528.16 L473.10,527.92 L474.29,527.69 L475.48,527.46 L476.68,527.23 L477.87,527.00 L479.06,526.78 L480.25,526.57 L481.44,526.36 L482.64,526.15 L483.83,525.95 L485.02,525.76 L486.21,525.57 L487.41,525.39 L488.60,525.21 L489.79,525.05 L490.98,524.89 L492.18,524.74 L493.37,524.60 L494.56,524.46 L495.76,524.34 L496.95,524.23 L498.14,524.13 L499.34,524.03 L500.53,523.95 L501.72,523.89 L502.92,523.83 L504.11,523.78 L505.30,523.75 L506.50,523.73 L507.69,523.73 L508.89,523.73 L510.08,523.76 L511.28,523.79 L512.47,523.85 L513.66,523.91 L514.86,524.00 L516.06,524.09 L517.25,524.21 L518.45,524.34" stroke="#ff9840"/>
<path d="M202.08,559.03 L202.81,558.07 L203.55,557.10 L204.27,556.13 L204.98,555.16 L205.68,554.18 L206.38,553.19 L207.07,552.20 L207.75,551.21 L208.42,550.21 L209.09,549.21 L209.75,548.20 L210.40,547.19 L211.04,546.18 L211.68,545.16 L212.31,544.14 L212.94,543.11 L213.56,542.08 L214.17,541.05 L214.78,540.02 L215.38,538.98 L215.98,537.94 L216.57,536.89 L217.16,535.85 L217.74,534.80 L218.32,533.74 L218.90,532.69 L219.47,531.63 L220.04,530.58 L220.60,529.52 L221.16,528.45 L221.72,527.39 L222.27,526.32 L222.83,525.26 L223.37,524.19 L223.92,523.12 L224.47,522.04 L225.01,520.97 L225.55,519.90 L226.09,518.82 L226.63,517.75 L227.17,516.67 L227.70,515.60 L228.24,514.52 L228.78,513.44 L229.31,512.36 L229.85,511.29 L230.38,510.21 L230.92,509.13 L231.46,508.05 L231.99,506.98 L232.53,505.90 L233.07,504.83 L233.61,503.75 L234.15,502.67 L234.69,501.60 L235.24,500.52 L235.78,499.45 L236.32,498.38 L236.87,497.30 L237.42,496.23 L237.97,495.16 L238.52,494.09 L239.07,493.02 L239.62,491.95 L240.17,490.88 L240.73,489.81 L241.29,488.75 L241.85,487.68 L242.41,486.61 L242.97,485.55 L243.54,484.49 L244.11,483.42 L244.68,482.36 L245.25,481.30 L245.82,480.24 L246.40,479.19 L246.98,478.13 L247.56,477.07 L248.14,476.02 L248.72,474.96 L249.31,473.91 L249.90,472.86 L250.50,471.81 L251.09,470.76 L251.69,469.72 L252.29,468.67 L252.90,467.63 L253.51,466.59 L254.12,465.55 L254.74,464.52 L255.36,463.48 L255.98,462.45 L256.61,461.42 L257.24,460.40 L257.87,459.38 L258.51,458.36 L259.16,457.34 L259.81,456.33 L260.46,455.32 L261.12,454.31 L261.78,453.31 L262.45,452.31 L263.12,451.32 L263.80,450.33 L264.49,449.35 L265.18,448.37 L265.87,447.39 L266.57,446.42 L267.28,445.45 L267.99,444.49 L268.71,443.54 L269.44,442.59 L270.17,441.64 L270.91,440.70 L271.66,439.77 L272.41,438.84 L273.17,437.92 L273.93,437.00 L274.71,436.10 L275.49,435.19 L276.28,434.30 L277.07,433.41 L277.88,432.52 L278.69,431.65 L279.51,430.78 L280.34,429.92 L281.17,429.06 L282.02,428.22 L282.87,427.38 L283.73,426.54 L284.60,425.72 L285.48,424.91 L286.36,424.10 L287.26,423.30 L288.17,422.51 L289.08,421.73 L290.00,420.95 L290.94,420.19 L291.88,419.43 L292.82,418.68 L293.78,417.94 L294.75,417.21 L295.72,416.49 L296.70,415.78 L297.69,415.07 L298.68,414.38 L299.68,413.69 L300.69,413.01 L301.71,412.34 L302.73,411.68 L303.76,411.03 L304.80,410.39 L305.84,409.76 L306.89,409.13 L307.95,408.52 L309.01,407.91 L310.08,407.32 L311.15,406.73 L312.23,406.15 L313.31,405.58 L314.40,405.02 L315.50,404.48 L316.60,403.94 L317.71,403.41 L318.81,402.89 L319.93,402.39 L321.05,401.90 L322.17,401.44 L323.30,400.99 L324.43,400.56 L325.56,400.16 L326.70,399.79 L327.84,399.44 L328.98,399.13 L330.13,398.84 L331.28,398.59 L332.43,398.38 L333.58,398.20 L334.73,398.06 L335.89,397.97 L337.05,397.91 L338.20,397.91 L339.36,397.94 L340.52,398.02 L341.68,398.14 L342.84,398.31 L343.99,398.51 L345.14,398.75 L346.29,399.03 L347.43,399.35 L348.57,399.70 L349.70,400.08 L350.83,400.50 L351.94,400.94 L353.05,401.42 L354.16,401.93 L355.25,402.46 L356.33,403.02 L357.40,403.61 L358.46,404.22 L359.50,404.86 L360.54,405.51 L361.56,406.19 L362.56,406.89 L363.55,407.60 L364.53,408.34 L365.48,409.08 L366.43,409.85 L367.35,410.63 L368.26,411.42 L369.16,412.23 L370.04,413.05 L370.91,413.88 L371.76,414.73 L372.60,415.59 L373.43,416.45 L374.25,417.33 L375.06,418.22 L375.85,419.12 L376.64,420.03 L377.42,420.95 L378.18,421.87 L378.94,422.81 L379.70,423.75 L380.44,424.69 L381.18,425.64 L381.91,426.60 L382.63,427.56 L383.35,428.53 L384.06,429.50 L384.77,430.48 L385.48,431.45 L386.18,432.43 L386.88,433.41 L387.58,434.39 L388.28,435.38 L388.97,436.36 L389.66,437.35 L390.36,438.33 L391.05,439.32 L391.73,440.30 L392.42,441.29 L393.11,442.28 L393.80,443.26 L394.48,444.25 L395.17,445.23 L395.86,446.22 L396.54,447.21 L397.23,448.19 L397.92,449.17 L398.61,450.16 L399.29,451.14 L399.98,452.12 L400.68,453.10 L401.37,454.08 L402.06,455.06 L402.76,456.04 L403.46,457.02 L404.16,457.99 L404.86,458.96 L405.56,459.94 L406.27,460.90 L406.98,461.87 L407.69,462.84 L408.41,463.80 L409.13,464.76 L409.85,465.72 L410.58,466.68 L411.31,467.63 L412.04,468.58 L412.78,469.53 L413.52,470.47 L414.27,471.42 L415.02,472.36 L415.78,473.29 L416.54,474.23 L417.30,475.16 L418.07,476.08 L418.85,477.00 L419.63,477.92 L420.41,478.84 L421.20,479.75 L421.99,480.66 L422.79,481.56 L423.60,482.46 L424.41,483.35 L425.22,484.24 L426.04,485.13 L426.86,486.01 L427.69,486.89 L428.52,487.76 L429.36,488.63 L430.20,489.49 L431.05,490.35 L431.90,491.20 L432.76,492.04 L433.62,492.88 L434.49,493.72 L435.36,494.55 L436.24,495.37 L437.13,496.19 L438.01,497.00 L438.91,497.81 L439.81,498.61 L440.71,499.40 L441.62,500.19 L442.53,500.97 L443.45,501.74 L444.37,502.51 L445.30,503.27 L446.24,504.03 L447.18,504.77 L448.12,505.51 L449.07,506.25 L450.03,506.97 L450.99,507.69 L451.95,508.40 L452.92,509.10 L453.90,509.80 L454.88,510.49 L455.87,511.17 L456.86,511.84 L457.86,512.50 L458.86,513.16 L459.87,513.80 L460.88,514.44 L461.90,515.07 L462.92,515.69 L463.95,516.31 L464.99,516.91 L466.03,517.51 L467.07,518.10 L468.12,518.69 L469.17,519.27 L470.23,519.84 L471.29,520.40 L472.35,520.96 L473.42,521.51 L474.49,522.06 L475.56,522.60 L476.64,523.14 L477.72,523.67 L478.80,524.19 L479.89,524.71 L480.98,525.23 L482.07,525.74 L483.16,526.25 L484.26,526.75 L485.36,527.25 L486.46,527.75 L487.56,528.24 L488.66,528.73 L489.77,529.22 L490.87,529.70 L491.98,530.19 L493.09,530.66 L494.20,531.14 L495.31,531.62 L496.42,532.09 L497.53,532.56 L498.64,533.04 L499.75,533.51 L500.86,533.98 L501.97,534.45 L503.08,534.91 L504.19,535.38 L505.30,535.85 L506.41,536.32 L507.51,536.79 L508.62,537.26 L509.72,537.73 L510.83,538.20 L511.93,538.67 L513.03,539.15 L514.13,539.62 L515.22,540.10 L516.32,540.58 L517.41,541.06 L518.50,541.55" stroke="#fff726"/>
<path d="M201.83,445.75 L202.88,444.79 L203.95,443.94 L205.02,443.19 L206.11,442.54 L207.21,441.98 L208.33,441.52 L209.44,441.14 L210.57,440.85 L211.70,440.64 L212.84,440.51 L213.98,440.45 L215.13,440.47 L216.27,440.55 L217.41,440.70 L218.55,440.90 L219.69,441.17 L220.83,441.49 L221.95,441.85 L223.07,442.27 L224.19,442.73 L225.29,443.23 L226.38,443.76 L227.46,444.33 L228.52,444.93 L229.58,445.55 L230.62,446.20 L231.65,446.86 L232.68,447.54 L233.70,448.23 L234.72,448.93 L235.73,449.63 L236.75,450.33 L237.77,451.03 L238.80,451.72 L239.84,452.40 L240.88,453.06 L241.94,453.71 L243.01,454.34 L244.09,454.94 L245.18,455.51 L246.29,456.04 L247.40,456.54 L248.52,457.00 L249.65,457.41 L250.79,457.77 L251.94,458.08 L253.09,458.33 L254.24,458.52 L255.40,458.65 L256.57,458.71 L257.73,458.70 L258.89,458.63 L260.04,458.50 L261.18,458.30 L262.32,458.04 L263.44,457.71 L264.54,457.32 L265.62,456.86 L266.68,456.35 L267.73,455.78 L268.75,455.16 L269.76,454.49 L270.75,453.79 L271.72,453.04 L272.68,452.27 L273.61,451.46 L274.53,450.64 L275.43,449.79 L276.32,448.94 L277.19,448.07 L278.04,447.19 L278.88,446.31 L279.70,445.41 L280.51,444.51 L281.30,443.60 L282.08,442.67 L282.85,441.75 L283.61,440.81 L284.35,439.87 L285.08,438.92 L285.81,437.96 L286.52,436.99 L287.22,436.02 L287.92,435.04 L288.60,434.06 L289.28,433.07 L289.95,432.08 L290.61,431.08 L291.27,430.08 L291.92,429.07 L292.56,428.05 L293.20,427.04 L293.84,426.02 L294.47,424.99 L295.10,423.96 L295.73,422.93 L296.36,421.90 L296.98,420.86 L297.60,419.82 L298.23,418.78 L298.85,417.74 L299.47,416.69 L300.10,415.65 L300.73,414.61 L301.36,413.57 L302.00,412.53 L302.64,411.49 L303.29,410.46 L303.94,409.44 L304.60,408.41 L305.27,407.40 L305.95,406.39 L306.64,405.39 L307.34,404.40 L308.05,403.42 L308.77,402.44 L309.51,401.48 L310.26,400.53 L311.03,399.59 L311.81,398.67 L312.61,397.76 L313.42,396.86 L314.26,395.98 L315.11,395.11 L315.98,394.27 L316.87,393.44 L317.78,392.62 L318.72,391.83 L319.67,391.06 L320.65,390.32 L321.65,389.61 L322.66,388.94 L323.70,388.31 L324.75,387.73 L325.81,387.21 L326.90,386.74 L327.99,386.33 L329.10,385.99 L330.23,385.72 L331.36,385.53 L332.51,385.41 L333.66,385.38 L334.82,385.43 L335.97,385.54 L337.12,385.73 L338.25,385.98 L339.37,386.29 L340.47,386.66 L341.54,387.08 L342.59,387.56 L343.62,388.09 L344.62,388.66 L345.59,389.29 L346.54,389.95 L347.48,390.66 L348.38,391.41 L349.27,392.19 L350.14,393.01 L350.99,393.86 L351.82,394.75 L352.64,395.66 L353.43,396.60 L354.21,397.57 L354.97,398.56 L355.72,399.56 L356.46,400.59 L357.18,401.63 L357.89,402.69 L358.58,403.76 L359.27,404.83 L359.94,405.92 L360.60,407.01 L361.26,408.11 L361.91,409.20 L362.54,410.30 L363.17,411.39 L363.80,412.48 L364.42,413.55 L365.03,414.63 L365.64,415.69 L366.24,416.74 L366.84,417.79 L367.43,418.83 L368.02,419.86 L368.60,420.89 L369.18,421.92 L369.75,422.95 L370.31,423.97 L370.87,425.00 L371.42,426.02 L371.97,427.04 L372.50,428.07 L373.04,429.10 L373.56,430.14 L374.08,431.18 L374.59,432.22 L375.10,433.28 L375.59,434.34 L376.08,435.41 L376.56,436.49 L377.04,437.57 L377.51,438.67 L377.97,439.77 L378.43,440.88 L378.89,441.99 L379.34,443.11 L379.79,444.24 L380.24,445.37 L380.68,446.50 L381.12,447.63 L381.56,448.77 L382.01,449.91 L382.45,451.05 L382.89,452.19 L383.33,453.33 L383.78,454.47 L384.23,455.61 L384.68,456.75 L385.14,457.89 L385.60,459.02 L386.07,460.15 L386.54,461.27 L387.01,462.39 L387.50,463.51 L387.99,464.62 L388.49,465.72 L388.99,466.82 L389.50,467.91 L390.01,469.00 L390.53,470.09 L391.05,471.17 L391.58,472.25 L392.11,473.33 L392.64,474.41 L393.17,475.48 L393.71,476.55 L394.25,477.62 L394.78,478.69 L395.32,479.76 L395.86,480.83 L396.40,481.90 L396.93,482.98 L397.47,484.05 L398.00,485.12 L398.53,486.20 L399.05,487.28 L399.57,488.36 L400.09,489.45 L400.61,490.53 L401.12,491.62 L401.63,492.71 L402.14,493.80 L402.65,494.90 L403.16,495.99 L403.66,497.09 L404.16,498.19 L404.67,499.29 L405.17,500.39 L405.67,501.49 L406.17,502.58 L406.68,503.68 L407.18,504.78 L407.68,505.88 L408.19,506.98 L408.70,508.08 L409.21,509.17 L409.72,510.27 L410.24,511.36 L410.76,512.45 L411.28,513.54 L411.80,514.63 L412.33,515.71 L412.86,516.79 L413.40,517.87 L413.94,518.95 L414.49,520.02 L415.04,521.09 L415.59,522.16 L416.15,523.23 L416.71,524.29 L417.28,525.35 L417.85,526.41 L418.43,527.46 L419.01,528.51 L419.59,529.57 L420.18,530.61 L420.77,531.66 L421.37,532.70 L421.97,533.74 L422.57,534.78 L423.18,535.82 L423.79,536.85 L424.41,537.89 L425.03,538.91 L425.66,539.94 L426.29,540.96 L426.93,541.98 L427.57,543.00 L428.22,544.01 L428.88,545.02 L429.54,546.02 L430.20,547.03 L430.88,548.02 L431.56,549.01 L432.24,550.00 L432.94,550.99 L433.64,551.97 L434.35,552.94 L435.06,553.91 L435.79,554.87 L436.52,555.83 L437.26,556.79 L438.01,557.74 L438.77,558.68 L439.54,559.62 L440.31,560.55 L441.10,561.47 L441.89,562.39 L442.70,563.30 L443.51,564.20 L444.33,565.09 L445.17,565.97 L446.01,566.84 L446.86,567.70 L447.73,568.55 L448.60,569.39 L449.49,570.21 L450.39,571.02 L451.29,571.81 L452.21,572.58 L453.14,573.34 L454.09,574.09 L455.04,574.81 L456.00,575.52 L456.98,576.21 L457.97,576.87 L458.97,577.52 L459.99,578.14 L461.01,578.75 L462.05,579.33 L463.10,579.89 L464.17,580.42 L465.24,580.94 L466.32,581.44 L467.42,581.91 L468.52,582.37 L469.63,582.81 L470.76,583.23 L471.89,583.63 L473.03,584.01 L474.17,584.38 L475.33,584.73 L476.49,585.06 L477.66,585.38 L478.83,585.68 L480.01,585.96 L481.19,586.23 L482.38,586.49 L483.58,586.73 L484.78,586.96 L485.98,587.17 L487.19,587.38 L488.39,587.57 L489.61,587.74 L490.82,587.91 L492.03,588.06 L493.25,588.21 L494.47,588.34 L495.68,588.47 L496.90,588.58 L498.12,588.69 L499.34,588.78 L500.55,588.87 L501.76,588.95 L502.98,589.03 L504.18,589.09 L505.39,589.15 L506.59,589.21 L507.79,589.26 L508.99,589.30 L510.18,589.34 L511.37,589.37 L512.55,589.40 L513.72,589.43 L514.89,589.45 L516.06,589.47 L517.21,589.49 L518.36,589.50" stroke="#ff90b8"/>
<rect x="434.60" y="359.80" width="8.50" height="8.50" fill="none" stroke="#ff4040" stroke-width="1"/>
<text x="446.80" y="366.35" class="lg">Bio02</text>
<rect x="434.60" y="369.73" width="8.50" height="8.50" fill="none" stroke="#3a3a3a" stroke-width="1"/>
<text x="446.80" y="376.28" class="lg">Bio10</text>
<rect x="434.60" y="379.66" width="8.50" height="8.50" fill="none" stroke="#4fd04f" stroke-width="1"/>
<text x="446.80" y="386.21" class="lg">Bio15</text>
<rect x="434.60" y="389.59" width="8.50" height="8.50" fill="none" stroke="#b040c4" stroke-width="1"/>
<text x="446.80" y="396.14" class="lg">S_BS</text>
<rect x="434.60" y="399.52" width="8.50" height="8.50" fill="none" stroke="#4646ff" stroke-width="1"/>
<text x="446.80" y="406.07" class="lg">S_CACO3</text>
<rect x="434.60" y="409.45" width="8.50" height="8.50" fill="none" stroke="#ff9840" stroke-width="1"/>
<text x="446.80" y="416.00" class="lg">S_REF_BULK_DENSITY</text>
<rect x="434.60" y="419.38" width="8.50" height="8.50" fill="none" stroke="#fff726" stroke-width="1"/>
<text x="446.80" y="425.93" class="lg">T_CACO3</text>
<rect x="434.60" y="429.31" width="8.50" height="8.50" fill="none" stroke="#ff90b8" stroke-width="1"/>
<text x="446.80" y="435.86" class="lg">T_ECE</text>
<text x="162.4" y="338.9" class="pl">C</text>
</svg>
</body></html>
